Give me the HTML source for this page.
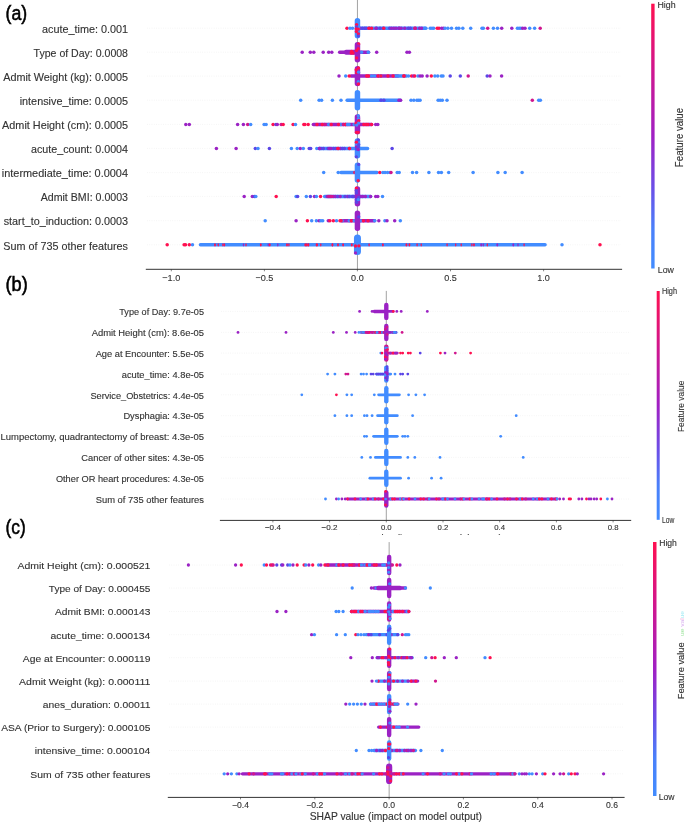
<!DOCTYPE html>
<html><head><meta charset="utf-8"><style>
html,body{margin:0;padding:0;background:#fff;}
svg{display:block;font-family:"Liberation Sans", sans-serif;will-change:transform;}
text.l{stroke:#333;stroke-width:0.12px;}
</style></head><body>
<svg width="685" height="823" viewBox="0 0 685 823">
<defs><linearGradient id="cbg" x1="0" y1="0" x2="0" y2="1"><stop offset="0" stop-color="#ff1050"/><stop offset="0.25" stop-color="#d0168e"/><stop offset="0.5" stop-color="#a020c4"/><stop offset="0.7" stop-color="#6a50e8"/><stop offset="0.85" stop-color="#4a80fa"/><stop offset="1" stop-color="#428cff"/></linearGradient></defs>
<rect width="685" height="823" fill="#fff"/>
<line x1="147" y1="28.2" x2="621" y2="28.2" stroke="#e6e6e6" stroke-width="0.5" stroke-dasharray="0.8 1.5"/>
<line x1="147" y1="52.2" x2="621" y2="52.2" stroke="#e6e6e6" stroke-width="0.5" stroke-dasharray="0.8 1.5"/>
<line x1="147" y1="76.1" x2="621" y2="76.1" stroke="#e6e6e6" stroke-width="0.5" stroke-dasharray="0.8 1.5"/>
<line x1="147" y1="100.2" x2="621" y2="100.2" stroke="#e6e6e6" stroke-width="0.5" stroke-dasharray="0.8 1.5"/>
<line x1="147" y1="124.4" x2="621" y2="124.4" stroke="#e6e6e6" stroke-width="0.5" stroke-dasharray="0.8 1.5"/>
<line x1="147" y1="148.4" x2="621" y2="148.4" stroke="#e6e6e6" stroke-width="0.5" stroke-dasharray="0.8 1.5"/>
<line x1="147" y1="172.6" x2="621" y2="172.6" stroke="#e6e6e6" stroke-width="0.5" stroke-dasharray="0.8 1.5"/>
<line x1="147" y1="196.4" x2="621" y2="196.4" stroke="#e6e6e6" stroke-width="0.5" stroke-dasharray="0.8 1.5"/>
<line x1="147" y1="220.7" x2="621" y2="220.7" stroke="#e6e6e6" stroke-width="0.5" stroke-dasharray="0.8 1.5"/>
<line x1="147" y1="244.8" x2="621" y2="244.8" stroke="#e6e6e6" stroke-width="0.5" stroke-dasharray="0.8 1.5"/>
<line x1="357.45" y1="0" x2="357.45" y2="269.3" stroke="#999" stroke-width="0.9"/>
<text class="l" x="128.0" y="32.9" font-size="10.3" text-anchor="end" fill="#333" textLength="86.0" lengthAdjust="spacingAndGlyphs">acute_time: 0.001</text>
<text class="l" x="128.0" y="56.9" font-size="10.3" text-anchor="end" fill="#333" textLength="94.4" lengthAdjust="spacingAndGlyphs">Type of Day: 0.0008</text>
<text class="l" x="128.0" y="80.8" font-size="10.3" text-anchor="end" fill="#333" textLength="124.8" lengthAdjust="spacingAndGlyphs">Admit Weight (kg): 0.0005</text>
<text class="l" x="128.0" y="104.9" font-size="10.3" text-anchor="end" fill="#333" textLength="108.3" lengthAdjust="spacingAndGlyphs">intensive_time: 0.0005</text>
<text class="l" x="128.0" y="129.1" font-size="10.3" text-anchor="end" fill="#333" textLength="125.9" lengthAdjust="spacingAndGlyphs">Admit Height (cm): 0.0005</text>
<text class="l" x="128.0" y="153.1" font-size="10.3" text-anchor="end" fill="#333" textLength="97.0" lengthAdjust="spacingAndGlyphs">acute_count: 0.0004</text>
<text class="l" x="128.0" y="177.3" font-size="10.3" text-anchor="end" fill="#333" textLength="126.2" lengthAdjust="spacingAndGlyphs">intermediate_time: 0.0004</text>
<text class="l" x="128.0" y="201.1" font-size="10.3" text-anchor="end" fill="#333" textLength="87.3" lengthAdjust="spacingAndGlyphs">Admit BMI: 0.0003</text>
<text class="l" x="128.0" y="225.4" font-size="10.3" text-anchor="end" fill="#333" textLength="124.3" lengthAdjust="spacingAndGlyphs">start_to_induction: 0.0003</text>
<text class="l" x="128.0" y="249.5" font-size="10.3" text-anchor="end" fill="#333" textLength="124.8" lengthAdjust="spacingAndGlyphs">Sum of 735 other features</text>
<rect x="358.2" y="26.45" width="69.5" height="3.50" rx="1.75" fill="#428cff"/>
<circle cx="360.0" cy="28.2" r="1.75" fill="#9b22c4"/>
<circle cx="362.3" cy="28.2" r="1.75" fill="#5a45e6"/>
<circle cx="364.6" cy="28.2" r="1.75" fill="#5a45e6"/>
<circle cx="366.2" cy="28.2" r="1.75" fill="#5a45e6"/>
<circle cx="369.5" cy="28.2" r="1.75" fill="#5a45e6"/>
<circle cx="371.6" cy="28.2" r="1.75" fill="#ff1050"/>
<circle cx="376.6" cy="28.2" r="1.75" fill="#5a45e6"/>
<circle cx="380.0" cy="28.2" r="1.75" fill="#5a45e6"/>
<circle cx="383.2" cy="28.2" r="1.75" fill="#5a45e6"/>
<circle cx="389.7" cy="28.2" r="1.75" fill="#5a45e6"/>
<circle cx="391.5" cy="28.2" r="1.75" fill="#9b22c4"/>
<circle cx="393.9" cy="28.2" r="1.75" fill="#9b22c4"/>
<circle cx="399.1" cy="28.2" r="1.75" fill="#9b22c4"/>
<circle cx="401.1" cy="28.2" r="1.75" fill="#9b22c4"/>
<circle cx="408.4" cy="28.2" r="1.75" fill="#5a45e6"/>
<circle cx="410.4" cy="28.2" r="1.75" fill="#5a45e6"/>
<circle cx="414.9" cy="28.2" r="1.75" fill="#ff1050"/>
<circle cx="421.7" cy="28.2" r="1.75" fill="#9b22c4"/>
<circle cx="347.0" cy="28.2" r="1.75" fill="#ff1050"/>
<circle cx="350.0" cy="28.2" r="1.75" fill="#428cff"/>
<circle cx="352.5" cy="28.2" r="1.75" fill="#428cff"/>
<circle cx="425.0" cy="28.2" r="1.75" fill="#428cff"/>
<circle cx="430.2" cy="28.2" r="1.75" fill="#428cff"/>
<circle cx="432.0" cy="28.2" r="1.75" fill="#428cff"/>
<circle cx="433.7" cy="28.2" r="1.75" fill="#428cff"/>
<circle cx="437.2" cy="28.2" r="1.75" fill="#ff1050"/>
<circle cx="439.0" cy="28.2" r="1.75" fill="#ff1050"/>
<circle cx="441.6" cy="28.2" r="1.75" fill="#9b22c4"/>
<circle cx="443.5" cy="28.2" r="1.75" fill="#9b22c4"/>
<circle cx="445.1" cy="28.2" r="1.75" fill="#428cff"/>
<circle cx="447.9" cy="28.2" r="1.75" fill="#428cff"/>
<circle cx="451.5" cy="28.2" r="1.75" fill="#428cff"/>
<circle cx="456.5" cy="28.2" r="1.75" fill="#428cff"/>
<circle cx="458.9" cy="28.2" r="1.75" fill="#428cff"/>
<circle cx="462.8" cy="28.2" r="1.75" fill="#428cff"/>
<circle cx="470.7" cy="28.2" r="1.75" fill="#428cff"/>
<circle cx="482.0" cy="28.2" r="1.75" fill="#428cff"/>
<circle cx="483.4" cy="28.2" r="1.75" fill="#428cff"/>
<circle cx="487.7" cy="28.2" r="1.75" fill="#d0168e"/>
<circle cx="493.4" cy="28.2" r="1.75" fill="#428cff"/>
<circle cx="497.5" cy="28.2" r="1.75" fill="#428cff"/>
<circle cx="501.7" cy="28.2" r="1.75" fill="#9b22c4"/>
<circle cx="511.8" cy="28.2" r="1.75" fill="#9b22c4"/>
<circle cx="517.4" cy="28.2" r="1.75" fill="#428cff"/>
<circle cx="519.2" cy="28.2" r="1.75" fill="#428cff"/>
<circle cx="520.9" cy="28.2" r="1.75" fill="#428cff"/>
<circle cx="522.7" cy="28.2" r="1.75" fill="#9b22c4"/>
<circle cx="525.0" cy="28.2" r="1.75" fill="#9b22c4"/>
<circle cx="529.7" cy="28.2" r="1.75" fill="#428cff"/>
<circle cx="534.6" cy="28.2" r="1.75" fill="#428cff"/>
<circle cx="540.2" cy="28.2" r="1.75" fill="#d0168e"/>
<circle cx="368.9" cy="28.2" r="1.75" fill="#ff1050"/>
<circle cx="376.0" cy="28.2" r="1.75" fill="#9b22c4"/>
<circle cx="383.8" cy="28.2" r="1.75" fill="#ff1050"/>
<circle cx="396.0" cy="28.2" r="1.75" fill="#9b22c4"/>
<circle cx="399.0" cy="28.2" r="1.75" fill="#9b22c4"/>
<circle cx="404.8" cy="28.2" r="1.75" fill="#9b22c4"/>
<circle cx="415.3" cy="28.2" r="1.75" fill="#d0168e"/>
<circle cx="419.7" cy="28.2" r="1.75" fill="#9b22c4"/>
<rect x="354.70" y="18.00" width="5.50" height="20.40" rx="2.75" fill="#428cff"/>
<circle cx="356.6" cy="24.6" r="1.6624999999999999" fill="#ff1050"/>
<circle cx="356.4" cy="26.9" r="1.6624999999999999" fill="#5a45e6"/>
<circle cx="356.2" cy="28.9" r="1.6624999999999999" fill="#ff1050"/>
<circle cx="358.3" cy="29.1" r="1.6624999999999999" fill="#ff1050"/>
<circle cx="356.4" cy="31.6" r="1.6624999999999999" fill="#ff1050"/>
<circle cx="358.4" cy="33.8" r="1.6624999999999999" fill="#ff1050"/>
<circle cx="358.3" cy="36.1" r="1.6624999999999999" fill="#5a45e6"/>
<rect x="337.9" y="50.45" width="20.2" height="3.50" rx="1.75" fill="#9b22c4"/>
<circle cx="346.6" cy="52.2" r="1.75" fill="#a820b8"/>
<rect x="344.2" y="49.75" width="13.5" height="3.50" rx="1.75" fill="#9b22c4"/>
<rect x="344.2" y="51.15" width="13.5" height="3.50" rx="1.75" fill="#9b22c4"/>
<circle cx="351.6" cy="51.5" r="1.75" fill="#ff1050"/>
<circle cx="351.2" cy="52.9" r="1.75" fill="#ff1050"/>
<circle cx="353.1" cy="52.9" r="1.75" fill="#ff1050"/>
<rect x="357.6" y="50.45" width="12.7" height="3.50" rx="1.75" fill="#9b22c4"/>
<circle cx="359.4" cy="52.2" r="1.75" fill="#428cff"/>
<circle cx="361.5" cy="52.2" r="1.75" fill="#428cff"/>
<circle cx="368.3" cy="52.2" r="1.75" fill="#428cff"/>
<circle cx="302.2" cy="52.2" r="1.75" fill="#9b22c4"/>
<circle cx="310.3" cy="52.2" r="1.75" fill="#9b22c4"/>
<circle cx="313.8" cy="52.2" r="1.75" fill="#9b22c4"/>
<circle cx="323.2" cy="52.2" r="1.75" fill="#9b22c4"/>
<circle cx="328.7" cy="52.2" r="1.75" fill="#9b22c4"/>
<circle cx="331.8" cy="52.2" r="1.75" fill="#9b22c4"/>
<circle cx="376.7" cy="52.2" r="1.75" fill="#9b22c4"/>
<circle cx="407.0" cy="52.2" r="1.75" fill="#9b22c4"/>
<circle cx="409.4" cy="52.2" r="1.75" fill="#9b22c4"/>
<rect x="354.70" y="42.00" width="5.50" height="20.40" rx="2.75" fill="#9b22c4"/>
<circle cx="358.7" cy="44.0" r="1.6624999999999999" fill="#ff1050"/>
<circle cx="358.2" cy="46.0" r="1.6624999999999999" fill="#a820b8"/>
<circle cx="358.2" cy="48.7" r="1.6624999999999999" fill="#ff1050"/>
<circle cx="356.5" cy="50.6" r="1.6624999999999999" fill="#ff1050"/>
<circle cx="356.6" cy="57.9" r="1.6624999999999999" fill="#ff1050"/>
<rect x="349.4" y="74.35" width="7.6" height="3.50" rx="1.75" fill="#9b22c4"/>
<rect x="357.6" y="74.35" width="42.1" height="3.50" rx="1.75" fill="#9b22c4"/>
<circle cx="366.7" cy="76.1" r="1.75" fill="#ff1050"/>
<circle cx="368.4" cy="76.1" r="1.75" fill="#ff1050"/>
<circle cx="371.7" cy="76.1" r="1.75" fill="#428cff"/>
<circle cx="374.5" cy="76.1" r="1.75" fill="#428cff"/>
<circle cx="378.3" cy="76.1" r="1.75" fill="#ff1050"/>
<circle cx="380.7" cy="76.1" r="1.75" fill="#428cff"/>
<circle cx="395.8" cy="76.1" r="1.75" fill="#428cff"/>
<rect x="396.2" y="74.35" width="11.9" height="3.50" rx="1.75" fill="#428cff"/>
<circle cx="404.1" cy="76.1" r="1.75" fill="#ff1050"/>
<circle cx="339.0" cy="76.1" r="1.75" fill="#9b22c4"/>
<circle cx="345.7" cy="76.1" r="1.75" fill="#428cff"/>
<circle cx="349.2" cy="76.1" r="1.75" fill="#ff1050"/>
<circle cx="408.5" cy="76.1" r="1.75" fill="#428cff"/>
<circle cx="411.6" cy="76.1" r="1.75" fill="#ff1050"/>
<circle cx="413.5" cy="76.1" r="1.75" fill="#9b22c4"/>
<circle cx="414.8" cy="76.1" r="1.75" fill="#ff1050"/>
<circle cx="418.0" cy="76.1" r="1.75" fill="#428cff"/>
<circle cx="420.1" cy="76.1" r="1.75" fill="#9b22c4"/>
<circle cx="422.2" cy="76.1" r="1.75" fill="#9b22c4"/>
<circle cx="427.1" cy="76.1" r="1.75" fill="#9b22c4"/>
<circle cx="431.3" cy="76.1" r="1.75" fill="#ff1050"/>
<circle cx="434.9" cy="76.1" r="1.75" fill="#428cff"/>
<circle cx="437.7" cy="76.1" r="1.75" fill="#428cff"/>
<circle cx="441.3" cy="76.1" r="1.75" fill="#428cff"/>
<circle cx="443.0" cy="76.1" r="1.75" fill="#428cff"/>
<circle cx="450.2" cy="76.1" r="1.75" fill="#5a45e6"/>
<circle cx="460.3" cy="76.1" r="1.75" fill="#5a45e6"/>
<circle cx="468.2" cy="76.1" r="1.75" fill="#d0168e"/>
<circle cx="487.2" cy="76.1" r="1.75" fill="#5a45e6"/>
<circle cx="490.0" cy="76.1" r="1.75" fill="#9b22c4"/>
<circle cx="501.6" cy="76.1" r="1.75" fill="#9b22c4"/>
<circle cx="380.8" cy="76.1" r="1.75" fill="#ff1050"/>
<circle cx="388.0" cy="76.1" r="1.75" fill="#ff1050"/>
<circle cx="393.1" cy="76.1" r="1.75" fill="#ff1050"/>
<circle cx="403.8" cy="76.1" r="1.75" fill="#ff1050"/>
<rect x="354.70" y="65.90" width="5.50" height="20.40" rx="2.75" fill="#9b22c4"/>
<circle cx="358.4" cy="67.9" r="1.6624999999999999" fill="#ff1050"/>
<circle cx="356.2" cy="69.8" r="1.6624999999999999" fill="#ff1050"/>
<circle cx="356.6" cy="72.7" r="1.6624999999999999" fill="#ff1050"/>
<circle cx="358.5" cy="72.2" r="1.6624999999999999" fill="#428cff"/>
<circle cx="358.3" cy="81.7" r="1.6624999999999999" fill="#428cff"/>
<circle cx="358.4" cy="84.0" r="1.6624999999999999" fill="#ff1050"/>
<rect x="345.4" y="98.45" width="11.7" height="3.50" rx="1.75" fill="#428cff"/>
<rect x="357.6" y="98.45" width="44.4" height="3.50" rx="1.75" fill="#428cff"/>
<circle cx="381.0" cy="100.2" r="1.75" fill="#5a45e6"/>
<circle cx="383.9" cy="100.2" r="1.75" fill="#5a45e6"/>
<circle cx="300.7" cy="100.2" r="1.75" fill="#428cff"/>
<circle cx="319.1" cy="100.2" r="1.75" fill="#428cff"/>
<circle cx="321.6" cy="100.2" r="1.75" fill="#428cff"/>
<circle cx="332.4" cy="100.2" r="1.75" fill="#428cff"/>
<circle cx="341.0" cy="100.2" r="1.75" fill="#428cff"/>
<circle cx="400.6" cy="100.2" r="1.75" fill="#9b22c4"/>
<circle cx="411.0" cy="100.2" r="1.75" fill="#428cff"/>
<circle cx="413.8" cy="100.2" r="1.75" fill="#428cff"/>
<circle cx="416.9" cy="100.2" r="1.75" fill="#428cff"/>
<circle cx="418.5" cy="100.2" r="1.75" fill="#428cff"/>
<circle cx="420.1" cy="100.2" r="1.75" fill="#428cff"/>
<circle cx="438.1" cy="100.2" r="1.75" fill="#428cff"/>
<circle cx="440.2" cy="100.2" r="1.75" fill="#428cff"/>
<circle cx="442.3" cy="100.2" r="1.75" fill="#428cff"/>
<circle cx="447.0" cy="100.2" r="1.75" fill="#428cff"/>
<circle cx="532.3" cy="100.2" r="1.75" fill="#d0168e"/>
<circle cx="538.7" cy="100.2" r="1.75" fill="#428cff"/>
<circle cx="540.4" cy="100.2" r="1.75" fill="#428cff"/>
<circle cx="399.0" cy="100.2" r="1.75" fill="#9b22c4"/>
<rect x="354.70" y="90.00" width="5.50" height="20.40" rx="2.75" fill="#428cff"/>
<rect x="311.6" y="122.65" width="44.5" height="3.50" rx="1.75" fill="#9b22c4"/>
<circle cx="324.8" cy="124.4" r="1.75" fill="#d0168e"/>
<circle cx="328.7" cy="124.4" r="1.75" fill="#428cff"/>
<circle cx="331.2" cy="124.4" r="1.75" fill="#ff1050"/>
<circle cx="340.9" cy="124.4" r="1.75" fill="#428cff"/>
<circle cx="343.4" cy="124.4" r="1.75" fill="#d0168e"/>
<circle cx="345.8" cy="124.4" r="1.75" fill="#ff1050"/>
<circle cx="354.2" cy="124.4" r="1.75" fill="#428cff"/>
<rect x="356.6" y="122.65" width="16.7" height="3.50" rx="1.75" fill="#9b22c4"/>
<circle cx="358.4" cy="124.4" r="1.75" fill="#ff1050"/>
<circle cx="363.8" cy="124.4" r="1.75" fill="#ff1050"/>
<circle cx="366.1" cy="124.4" r="1.75" fill="#ff1050"/>
<circle cx="371.6" cy="124.4" r="1.75" fill="#ff1050"/>
<circle cx="185.8" cy="124.4" r="1.75" fill="#9b22c4"/>
<circle cx="189.3" cy="124.4" r="1.75" fill="#9b22c4"/>
<circle cx="237.6" cy="124.4" r="1.75" fill="#9b22c4"/>
<circle cx="243.4" cy="124.4" r="1.75" fill="#9b22c4"/>
<circle cx="247.7" cy="124.4" r="1.75" fill="#d0168e"/>
<circle cx="250.7" cy="124.4" r="1.75" fill="#428cff"/>
<circle cx="264.1" cy="124.4" r="1.75" fill="#428cff"/>
<circle cx="266.1" cy="124.4" r="1.75" fill="#428cff"/>
<circle cx="273.1" cy="124.4" r="1.75" fill="#ff1050"/>
<circle cx="276.0" cy="124.4" r="1.75" fill="#5a45e6"/>
<circle cx="277.3" cy="124.4" r="1.75" fill="#9b22c4"/>
<circle cx="281.2" cy="124.4" r="1.75" fill="#d0168e"/>
<circle cx="283.2" cy="124.4" r="1.75" fill="#ff1050"/>
<circle cx="293.1" cy="124.4" r="1.75" fill="#ff1050"/>
<circle cx="295.5" cy="124.4" r="1.75" fill="#428cff"/>
<circle cx="303.8" cy="124.4" r="1.75" fill="#ff1050"/>
<circle cx="304.9" cy="124.4" r="1.75" fill="#ff1050"/>
<circle cx="308.2" cy="124.4" r="1.75" fill="#ff1050"/>
<circle cx="375.7" cy="124.4" r="1.75" fill="#9b22c4"/>
<circle cx="377.8" cy="124.4" r="1.75" fill="#9b22c4"/>
<circle cx="317.0" cy="124.4" r="1.75" fill="#ff1050"/>
<circle cx="322.2" cy="124.4" r="1.75" fill="#ff1050"/>
<circle cx="338.5" cy="124.4" r="1.75" fill="#ff1050"/>
<circle cx="345.7" cy="124.4" r="1.75" fill="#ff1050"/>
<circle cx="347.5" cy="124.4" r="1.75" fill="#428cff"/>
<circle cx="349.0" cy="124.4" r="1.75" fill="#428cff"/>
<circle cx="368.0" cy="124.4" r="1.75" fill="#ff1050"/>
<rect x="354.70" y="114.20" width="5.50" height="20.40" rx="2.75" fill="#9b22c4"/>
<circle cx="358.3" cy="115.7" r="1.6624999999999999" fill="#428cff"/>
<circle cx="358.4" cy="118.6" r="1.6624999999999999" fill="#428cff"/>
<circle cx="358.7" cy="120.7" r="1.6624999999999999" fill="#ff1050"/>
<circle cx="356.2" cy="123.2" r="1.6624999999999999" fill="#ff1050"/>
<circle cx="358.7" cy="123.1" r="1.6624999999999999" fill="#428cff"/>
<circle cx="356.7" cy="125.1" r="1.6624999999999999" fill="#428cff"/>
<circle cx="356.5" cy="132.3" r="1.6624999999999999" fill="#ff1050"/>
<circle cx="358.2" cy="132.3" r="1.6624999999999999" fill="#ff1050"/>
<rect x="317.2" y="146.65" width="38.8" height="3.50" rx="1.75" fill="#428cff"/>
<circle cx="319.4" cy="148.4" r="1.75" fill="#5a45e6"/>
<circle cx="320.9" cy="148.4" r="1.75" fill="#5a45e6"/>
<circle cx="323.4" cy="148.4" r="1.75" fill="#5a45e6"/>
<circle cx="328.0" cy="148.4" r="1.75" fill="#5a45e6"/>
<circle cx="333.6" cy="148.4" r="1.75" fill="#5a45e6"/>
<circle cx="335.9" cy="148.4" r="1.75" fill="#5a45e6"/>
<circle cx="338.1" cy="148.4" r="1.75" fill="#ff1050"/>
<circle cx="340.6" cy="148.4" r="1.75" fill="#9b22c4"/>
<circle cx="342.4" cy="148.4" r="1.75" fill="#5a45e6"/>
<circle cx="344.4" cy="148.4" r="1.75" fill="#5a45e6"/>
<circle cx="349.1" cy="148.4" r="1.75" fill="#5a45e6"/>
<rect x="357.6" y="146.65" width="11.7" height="3.50" rx="1.75" fill="#428cff"/>
<circle cx="216.4" cy="148.4" r="1.75" fill="#9b22c4"/>
<circle cx="236.1" cy="148.4" r="1.75" fill="#9b22c4"/>
<circle cx="255.3" cy="148.4" r="1.75" fill="#5a45e6"/>
<circle cx="258.0" cy="148.4" r="1.75" fill="#428cff"/>
<circle cx="269.4" cy="148.4" r="1.75" fill="#5a45e6"/>
<circle cx="291.4" cy="148.4" r="1.75" fill="#428cff"/>
<circle cx="297.2" cy="148.4" r="1.75" fill="#428cff"/>
<circle cx="300.3" cy="148.4" r="1.75" fill="#9b22c4"/>
<circle cx="303.3" cy="148.4" r="1.75" fill="#428cff"/>
<circle cx="309.2" cy="148.4" r="1.75" fill="#5a45e6"/>
<circle cx="310.7" cy="148.4" r="1.75" fill="#5a45e6"/>
<circle cx="316.8" cy="148.4" r="1.75" fill="#428cff"/>
<circle cx="392.1" cy="148.4" r="1.75" fill="#5a45e6"/>
<circle cx="319.4" cy="148.4" r="1.75" fill="#9b22c4"/>
<circle cx="329.3" cy="148.4" r="1.75" fill="#9b22c4"/>
<circle cx="330.9" cy="148.4" r="1.75" fill="#9b22c4"/>
<circle cx="338.0" cy="148.4" r="1.75" fill="#ff1050"/>
<circle cx="349.5" cy="148.4" r="1.75" fill="#ff1050"/>
<rect x="354.70" y="138.20" width="5.50" height="20.40" rx="2.75" fill="#428cff"/>
<circle cx="358.3" cy="139.8" r="1.6624999999999999" fill="#5a45e6"/>
<circle cx="356.4" cy="142.2" r="1.6624999999999999" fill="#ff1050"/>
<circle cx="358.7" cy="144.6" r="1.6624999999999999" fill="#5a45e6"/>
<circle cx="356.4" cy="147.0" r="1.6624999999999999" fill="#9b22c4"/>
<circle cx="358.5" cy="146.7" r="1.6624999999999999" fill="#5a45e6"/>
<circle cx="356.4" cy="149.1" r="1.6624999999999999" fill="#5a45e6"/>
<circle cx="358.3" cy="149.5" r="1.6624999999999999" fill="#9b22c4"/>
<circle cx="356.3" cy="156.8" r="1.6624999999999999" fill="#5a45e6"/>
<rect x="339.2" y="170.85" width="16.8" height="3.50" rx="1.75" fill="#428cff"/>
<rect x="357.6" y="170.85" width="21.1" height="3.50" rx="1.75" fill="#428cff"/>
<circle cx="323.7" cy="172.6" r="1.75" fill="#428cff"/>
<circle cx="338.2" cy="172.6" r="1.75" fill="#428cff"/>
<circle cx="354.9" cy="172.6" r="1.75" fill="#ff1050"/>
<circle cx="379.8" cy="172.6" r="1.75" fill="#ff1050"/>
<circle cx="382.9" cy="172.6" r="1.75" fill="#428cff"/>
<circle cx="385.0" cy="172.6" r="1.75" fill="#428cff"/>
<circle cx="387.5" cy="172.6" r="1.75" fill="#428cff"/>
<circle cx="390.0" cy="172.6" r="1.75" fill="#428cff"/>
<circle cx="391.0" cy="172.6" r="1.75" fill="#d0168e"/>
<circle cx="397.2" cy="172.6" r="1.75" fill="#428cff"/>
<circle cx="399.2" cy="172.6" r="1.75" fill="#428cff"/>
<circle cx="412.5" cy="172.6" r="1.75" fill="#428cff"/>
<circle cx="416.6" cy="172.6" r="1.75" fill="#428cff"/>
<circle cx="428.9" cy="172.6" r="1.75" fill="#428cff"/>
<circle cx="438.5" cy="172.6" r="1.75" fill="#428cff"/>
<circle cx="441.4" cy="172.6" r="1.75" fill="#428cff"/>
<circle cx="448.7" cy="172.6" r="1.75" fill="#428cff"/>
<circle cx="473.1" cy="172.6" r="1.75" fill="#428cff"/>
<circle cx="497.9" cy="172.6" r="1.75" fill="#428cff"/>
<circle cx="505.2" cy="172.6" r="1.75" fill="#428cff"/>
<circle cx="522.1" cy="172.6" r="1.75" fill="#428cff"/>
<rect x="354.70" y="162.40" width="5.50" height="20.40" rx="2.75" fill="#428cff"/>
<circle cx="358.7" cy="164.4" r="1.6624999999999999" fill="#5a45e6"/>
<circle cx="358.2" cy="180.6" r="1.6624999999999999" fill="#ff1050"/>
<rect x="322.9" y="194.65" width="33.1" height="3.50" rx="1.75" fill="#428cff"/>
<circle cx="327.2" cy="196.4" r="1.75" fill="#9b22c4"/>
<circle cx="329.2" cy="196.4" r="1.75" fill="#5a45e6"/>
<circle cx="333.8" cy="196.4" r="1.75" fill="#9b22c4"/>
<circle cx="335.5" cy="196.4" r="1.75" fill="#9b22c4"/>
<circle cx="337.8" cy="196.4" r="1.75" fill="#5a45e6"/>
<circle cx="340.2" cy="196.4" r="1.75" fill="#9b22c4"/>
<circle cx="345.0" cy="196.4" r="1.75" fill="#5a45e6"/>
<circle cx="347.8" cy="196.4" r="1.75" fill="#9b22c4"/>
<circle cx="349.2" cy="196.4" r="1.75" fill="#5a45e6"/>
<circle cx="352.4" cy="196.4" r="1.75" fill="#5a45e6"/>
<circle cx="353.6" cy="196.4" r="1.75" fill="#5a45e6"/>
<rect x="358.6" y="194.65" width="13.7" height="3.50" rx="1.75" fill="#428cff"/>
<circle cx="360.7" cy="196.4" r="1.75" fill="#9b22c4"/>
<circle cx="362.6" cy="196.4" r="1.75" fill="#9b22c4"/>
<circle cx="365.4" cy="196.4" r="1.75" fill="#9b22c4"/>
<circle cx="370.6" cy="196.4" r="1.75" fill="#9b22c4"/>
<circle cx="244.2" cy="196.4" r="1.75" fill="#9b22c4"/>
<circle cx="252.3" cy="196.4" r="1.75" fill="#9b22c4"/>
<circle cx="254.4" cy="196.4" r="1.75" fill="#5a45e6"/>
<circle cx="255.8" cy="196.4" r="1.75" fill="#428cff"/>
<circle cx="276.2" cy="196.4" r="1.75" fill="#ff1050"/>
<circle cx="296.1" cy="196.4" r="1.75" fill="#428cff"/>
<circle cx="297.6" cy="196.4" r="1.75" fill="#5a45e6"/>
<circle cx="306.3" cy="196.4" r="1.75" fill="#428cff"/>
<circle cx="310.4" cy="196.4" r="1.75" fill="#5a45e6"/>
<circle cx="314.5" cy="196.4" r="1.75" fill="#9b22c4"/>
<circle cx="316.4" cy="196.4" r="1.75" fill="#428cff"/>
<circle cx="320.5" cy="196.4" r="1.75" fill="#ff1050"/>
<circle cx="375.7" cy="196.4" r="1.75" fill="#9b22c4"/>
<circle cx="377.8" cy="196.4" r="1.75" fill="#9b22c4"/>
<circle cx="382.5" cy="196.4" r="1.75" fill="#428cff"/>
<circle cx="328.8" cy="196.4" r="1.75" fill="#d0168e"/>
<circle cx="330.5" cy="196.4" r="1.75" fill="#d0168e"/>
<circle cx="331.9" cy="196.4" r="1.75" fill="#d0168e"/>
<rect x="354.70" y="186.20" width="5.50" height="20.40" rx="2.75" fill="#9b22c4"/>
<circle cx="356.4" cy="188.1" r="1.6624999999999999" fill="#ff1050"/>
<circle cx="356.3" cy="190.6" r="1.6624999999999999" fill="#5a45e6"/>
<circle cx="356.5" cy="192.9" r="1.6624999999999999" fill="#5a45e6"/>
<circle cx="358.7" cy="197.4" r="1.6624999999999999" fill="#5a45e6"/>
<circle cx="356.4" cy="199.7" r="1.6624999999999999" fill="#5a45e6"/>
<circle cx="358.4" cy="199.7" r="1.6624999999999999" fill="#428cff"/>
<circle cx="356.6" cy="202.3" r="1.6624999999999999" fill="#5a45e6"/>
<rect x="340.4" y="218.95" width="15.7" height="3.50" rx="1.75" fill="#9b22c4"/>
<circle cx="342.1" cy="220.7" r="1.75" fill="#428cff"/>
<circle cx="349.3" cy="220.7" r="1.75" fill="#428cff"/>
<circle cx="351.3" cy="220.7" r="1.75" fill="#ff1050"/>
<circle cx="354.3" cy="220.7" r="1.75" fill="#428cff"/>
<rect x="358.6" y="218.95" width="17.8" height="3.50" rx="1.75" fill="#9b22c4"/>
<circle cx="360.4" cy="220.7" r="1.75" fill="#428cff"/>
<circle cx="363.4" cy="220.7" r="1.75" fill="#ff1050"/>
<circle cx="374.7" cy="220.7" r="1.75" fill="#428cff"/>
<circle cx="265.2" cy="220.7" r="1.75" fill="#428cff"/>
<circle cx="296.1" cy="220.7" r="1.75" fill="#9b22c4"/>
<circle cx="307.4" cy="220.7" r="1.75" fill="#ff1050"/>
<circle cx="311.7" cy="220.7" r="1.75" fill="#428cff"/>
<circle cx="316.4" cy="220.7" r="1.75" fill="#428cff"/>
<circle cx="319.1" cy="220.7" r="1.75" fill="#9b22c4"/>
<circle cx="320.9" cy="220.7" r="1.75" fill="#428cff"/>
<circle cx="322.7" cy="220.7" r="1.75" fill="#428cff"/>
<circle cx="328.3" cy="220.7" r="1.75" fill="#9b22c4"/>
<circle cx="329.9" cy="220.7" r="1.75" fill="#ff1050"/>
<circle cx="333.4" cy="220.7" r="1.75" fill="#ff1050"/>
<circle cx="336.5" cy="220.7" r="1.75" fill="#428cff"/>
<circle cx="340.0" cy="220.7" r="1.75" fill="#ff1050"/>
<circle cx="341.1" cy="220.7" r="1.75" fill="#ff1050"/>
<circle cx="378.8" cy="220.7" r="1.75" fill="#9b22c4"/>
<circle cx="384.9" cy="220.7" r="1.75" fill="#428cff"/>
<circle cx="387.0" cy="220.7" r="1.75" fill="#9b22c4"/>
<circle cx="394.7" cy="220.7" r="1.75" fill="#9b22c4"/>
<circle cx="400.3" cy="220.7" r="1.75" fill="#428cff"/>
<circle cx="368.0" cy="220.7" r="1.75" fill="#ff1050"/>
<rect x="354.70" y="210.50" width="5.50" height="20.40" rx="2.75" fill="#9b22c4"/>
<circle cx="358.7" cy="216.8" r="1.6624999999999999" fill="#5a45e6"/>
<rect x="198.7" y="243.05" width="348.1" height="3.50" rx="1.75" fill="#428cff"/>
<ellipse cx="218.2" cy="244.8" rx="0.70" ry="1.66" fill="#ff1050"/>
<ellipse cx="222.9" cy="244.8" rx="0.70" ry="1.66" fill="#ff1050"/>
<ellipse cx="243.5" cy="244.8" rx="0.70" ry="1.66" fill="#9b22c4"/>
<ellipse cx="246.0" cy="244.8" rx="0.70" ry="1.66" fill="#ff1050"/>
<ellipse cx="268.2" cy="244.8" rx="0.70" ry="1.66" fill="#9b22c4"/>
<ellipse cx="277.8" cy="244.8" rx="0.70" ry="1.66" fill="#9b22c4"/>
<ellipse cx="288.9" cy="244.8" rx="0.70" ry="1.66" fill="#ff1050"/>
<ellipse cx="308.0" cy="244.8" rx="0.70" ry="1.66" fill="#ff1050"/>
<ellipse cx="316.4" cy="244.8" rx="0.70" ry="1.66" fill="#ff1050"/>
<ellipse cx="320.8" cy="244.8" rx="0.70" ry="1.66" fill="#ff1050"/>
<ellipse cx="332.5" cy="244.8" rx="0.70" ry="1.66" fill="#ff1050"/>
<ellipse cx="355.6" cy="244.8" rx="0.70" ry="1.66" fill="#ff1050"/>
<ellipse cx="369.1" cy="244.8" rx="0.70" ry="1.66" fill="#ff1050"/>
<ellipse cx="417.1" cy="244.8" rx="0.70" ry="1.66" fill="#ff1050"/>
<ellipse cx="421.2" cy="244.8" rx="0.70" ry="1.66" fill="#ff1050"/>
<ellipse cx="447.1" cy="244.8" rx="0.70" ry="1.66" fill="#ff1050"/>
<ellipse cx="455.7" cy="244.8" rx="0.70" ry="1.66" fill="#ff1050"/>
<ellipse cx="461.2" cy="244.8" rx="0.70" ry="1.66" fill="#ff1050"/>
<ellipse cx="471.9" cy="244.8" rx="0.70" ry="1.66" fill="#ff1050"/>
<ellipse cx="483.3" cy="244.8" rx="0.70" ry="1.66" fill="#9b22c4"/>
<ellipse cx="487.3" cy="244.8" rx="0.70" ry="1.66" fill="#ff1050"/>
<ellipse cx="518.0" cy="244.8" rx="0.70" ry="1.66" fill="#9b22c4"/>
<ellipse cx="524.1" cy="244.8" rx="0.70" ry="1.66" fill="#ff1050"/>
<circle cx="167.2" cy="244.8" r="1.75" fill="#ff1050"/>
<circle cx="184.1" cy="244.8" r="1.75" fill="#ff1050"/>
<circle cx="185.5" cy="244.8" r="1.75" fill="#ff1050"/>
<circle cx="189.3" cy="244.8" r="1.75" fill="#ff1050"/>
<circle cx="192.5" cy="244.8" r="1.75" fill="#428cff"/>
<circle cx="562.0" cy="244.8" r="1.75" fill="#428cff"/>
<circle cx="600.0" cy="244.8" r="1.75" fill="#ff1050"/>
<ellipse cx="215.0" cy="244.8" rx="0.96" ry="1.66" fill="#ff1050"/>
<ellipse cx="224.3" cy="244.8" rx="0.96" ry="1.66" fill="#ff1050"/>
<ellipse cx="260.8" cy="244.8" rx="0.96" ry="1.66" fill="#ff1050"/>
<ellipse cx="269.8" cy="244.8" rx="0.96" ry="1.66" fill="#ff1050"/>
<ellipse cx="287.0" cy="244.8" rx="0.96" ry="1.66" fill="#ff1050"/>
<ellipse cx="305.3" cy="244.8" rx="0.96" ry="1.66" fill="#ff1050"/>
<ellipse cx="306.5" cy="244.8" rx="0.96" ry="1.66" fill="#ff1050"/>
<ellipse cx="308.4" cy="244.8" rx="0.96" ry="1.66" fill="#ff1050"/>
<ellipse cx="317.1" cy="244.8" rx="0.96" ry="1.66" fill="#ff1050"/>
<ellipse cx="332.4" cy="244.8" rx="0.96" ry="1.66" fill="#ff1050"/>
<ellipse cx="338.0" cy="244.8" rx="0.96" ry="1.66" fill="#ff1050"/>
<ellipse cx="343.1" cy="244.8" rx="0.96" ry="1.66" fill="#ff1050"/>
<ellipse cx="351.8" cy="244.8" rx="0.96" ry="1.66" fill="#ff1050"/>
<ellipse cx="382.9" cy="244.8" rx="0.96" ry="1.66" fill="#ff1050"/>
<ellipse cx="406.4" cy="244.8" rx="0.96" ry="1.66" fill="#ff1050"/>
<ellipse cx="409.4" cy="244.8" rx="0.96" ry="1.66" fill="#ff1050"/>
<ellipse cx="474.0" cy="244.8" rx="0.96" ry="1.66" fill="#ff1050"/>
<ellipse cx="481.2" cy="244.8" rx="0.96" ry="1.66" fill="#9b22c4"/>
<ellipse cx="497.3" cy="244.8" rx="0.96" ry="1.66" fill="#9b22c4"/>
<ellipse cx="513.3" cy="244.8" rx="0.96" ry="1.66" fill="#9b22c4"/>
<rect x="353.95" y="234.60" width="7.00" height="20.40" rx="3.50" fill="#428cff"/>
<circle cx="355.5" cy="246.0" r="1.6624999999999999" fill="#ff1050"/>
<circle cx="358.9" cy="245.8" r="1.6624999999999999" fill="#ff1050"/>
<circle cx="355.5" cy="252.9" r="1.6624999999999999" fill="#9b22c4"/>
<line x1="145.8" y1="269.3" x2="622.1" y2="269.3" stroke="#333" stroke-width="1"/>
<line x1="171.3" y1="269.3" x2="171.3" y2="271.3" stroke="#333" stroke-width="0.6"/>
<text class="l" x="171.3" y="281.0" font-size="9.2" text-anchor="middle" fill="#333" textLength="18.0" lengthAdjust="spacingAndGlyphs">−1.0</text>
<line x1="264.4" y1="269.3" x2="264.4" y2="271.3" stroke="#333" stroke-width="0.6"/>
<text class="l" x="264.4" y="281.0" font-size="9.2" text-anchor="middle" fill="#333" textLength="18.0" lengthAdjust="spacingAndGlyphs">−0.5</text>
<line x1="357.4" y1="269.3" x2="357.4" y2="271.3" stroke="#333" stroke-width="0.6"/>
<text class="l" x="357.4" y="281.0" font-size="9.2" text-anchor="middle" fill="#333" textLength="12.6" lengthAdjust="spacingAndGlyphs">0.0</text>
<line x1="450.5" y1="269.3" x2="450.5" y2="271.3" stroke="#333" stroke-width="0.6"/>
<text class="l" x="450.5" y="281.0" font-size="9.2" text-anchor="middle" fill="#333" textLength="12.6" lengthAdjust="spacingAndGlyphs">0.5</text>
<line x1="543.6" y1="269.3" x2="543.6" y2="271.3" stroke="#333" stroke-width="0.6"/>
<text class="l" x="543.6" y="281.0" font-size="9.2" text-anchor="middle" fill="#333" textLength="12.6" lengthAdjust="spacingAndGlyphs">1.0</text>
<rect x="651.2" y="3.7" width="3.3999999999999773" height="264.8" fill="url(#cbg)"/>
<text class="l" x="657.5" y="8.3" font-size="8.8" text-anchor="start" fill="#333">High</text>
<text class="l" x="657.8" y="272.8" font-size="8.8" text-anchor="start" fill="#333">Low</text>
<text class="l" x="0" y="0" font-size="10" text-anchor="middle" fill="#333" transform="translate(682.5,137.5) rotate(-90)" textLength="59.3" lengthAdjust="spacingAndGlyphs">Feature value</text>
<line x1="221" y1="311.4" x2="630.5" y2="311.4" stroke="#e6e6e6" stroke-width="0.5" stroke-dasharray="0.8 1.5"/>
<line x1="221" y1="332.4" x2="630.5" y2="332.4" stroke="#e6e6e6" stroke-width="0.5" stroke-dasharray="0.8 1.5"/>
<line x1="221" y1="353.1" x2="630.5" y2="353.1" stroke="#e6e6e6" stroke-width="0.5" stroke-dasharray="0.8 1.5"/>
<line x1="221" y1="374.1" x2="630.5" y2="374.1" stroke="#e6e6e6" stroke-width="0.5" stroke-dasharray="0.8 1.5"/>
<line x1="221" y1="394.8" x2="630.5" y2="394.8" stroke="#e6e6e6" stroke-width="0.5" stroke-dasharray="0.8 1.5"/>
<line x1="221" y1="415.7" x2="630.5" y2="415.7" stroke="#e6e6e6" stroke-width="0.5" stroke-dasharray="0.8 1.5"/>
<line x1="221" y1="436.3" x2="630.5" y2="436.3" stroke="#e6e6e6" stroke-width="0.5" stroke-dasharray="0.8 1.5"/>
<line x1="221" y1="457.4" x2="630.5" y2="457.4" stroke="#e6e6e6" stroke-width="0.5" stroke-dasharray="0.8 1.5"/>
<line x1="221" y1="478.2" x2="630.5" y2="478.2" stroke="#e6e6e6" stroke-width="0.5" stroke-dasharray="0.8 1.5"/>
<line x1="221" y1="499.0" x2="630.5" y2="499.0" stroke="#e6e6e6" stroke-width="0.5" stroke-dasharray="0.8 1.5"/>
<line x1="386.3" y1="290.9" x2="386.3" y2="520.4" stroke="#999" stroke-width="0.9"/>
<text class="l" x="204.0" y="315.1" font-size="8.9" text-anchor="end" fill="#333" textLength="84.7" lengthAdjust="spacingAndGlyphs">Type of Day: 9.7e-05</text>
<text class="l" x="204.0" y="336.1" font-size="8.9" text-anchor="end" fill="#333" textLength="112.3" lengthAdjust="spacingAndGlyphs">Admit Height (cm): 8.6e-05</text>
<text class="l" x="204.0" y="356.8" font-size="8.9" text-anchor="end" fill="#333" textLength="108.3" lengthAdjust="spacingAndGlyphs">Age at Encounter: 5.5e-05</text>
<text class="l" x="204.0" y="377.8" font-size="8.9" text-anchor="end" fill="#333" textLength="82.2" lengthAdjust="spacingAndGlyphs">acute_time: 4.8e-05</text>
<text class="l" x="204.0" y="398.5" font-size="8.9" text-anchor="end" fill="#333" textLength="113.6" lengthAdjust="spacingAndGlyphs">Service_Obstetrics: 4.4e-05</text>
<text class="l" x="204.0" y="419.4" font-size="8.9" text-anchor="end" fill="#333" textLength="80.6" lengthAdjust="spacingAndGlyphs">Dysphagia: 4.3e-05</text>
<text class="l" x="204.0" y="440.0" font-size="8.9" text-anchor="end" fill="#333" textLength="203.4" lengthAdjust="spacingAndGlyphs">Lumpectomy, quadrantectomy of breast: 4.3e-05</text>
<text class="l" x="204.0" y="461.1" font-size="8.9" text-anchor="end" fill="#333" textLength="122.7" lengthAdjust="spacingAndGlyphs">Cancer of other sites: 4.3e-05</text>
<text class="l" x="204.0" y="481.9" font-size="8.9" text-anchor="end" fill="#333" textLength="148.1" lengthAdjust="spacingAndGlyphs">Other OR heart procedures: 4.3e-05</text>
<text class="l" x="204.0" y="502.7" font-size="8.9" text-anchor="end" fill="#333" textLength="108.3" lengthAdjust="spacingAndGlyphs">Sum of 735 other features</text>
<rect x="372.9" y="309.65" width="13.5" height="2.80" rx="1.4" fill="#9b22c4"/>
<rect x="372.9" y="310.35" width="13.5" height="2.80" rx="1.4" fill="#9b22c4"/>
<rect x="387.1" y="310.00" width="7.3" height="2.80" rx="1.4" fill="#9b22c4"/>
<circle cx="359.6" cy="311.4" r="1.4" fill="#9b22c4"/>
<circle cx="372.1" cy="311.4" r="1.4" fill="#9b22c4"/>
<circle cx="393.3" cy="311.4" r="1.4" fill="#ff1050"/>
<circle cx="396.8" cy="311.4" r="1.4" fill="#9b22c4"/>
<circle cx="401.2" cy="311.4" r="1.4" fill="#9b22c4"/>
<circle cx="427.3" cy="311.4" r="1.4" fill="#9b22c4"/>
<rect x="384.10" y="302.70" width="4.40" height="17.40" rx="2.20" fill="#9b22c4"/>
<rect x="359.7" y="331.00" width="25.8" height="2.80" rx="1.4" fill="#9b22c4"/>
<circle cx="361.5" cy="332.4" r="1.4" fill="#428cff"/>
<circle cx="362.9" cy="332.4" r="1.4" fill="#ff1050"/>
<circle cx="364.6" cy="332.4" r="1.4" fill="#428cff"/>
<circle cx="367.4" cy="332.4" r="1.4" fill="#d0168e"/>
<circle cx="369.1" cy="332.4" r="1.4" fill="#ff1050"/>
<circle cx="372.4" cy="332.4" r="1.4" fill="#d0168e"/>
<circle cx="375.1" cy="332.4" r="1.4" fill="#428cff"/>
<circle cx="378.8" cy="332.4" r="1.4" fill="#d0168e"/>
<circle cx="380.6" cy="332.4" r="1.4" fill="#ff1050"/>
<circle cx="382.3" cy="332.4" r="1.4" fill="#428cff"/>
<circle cx="383.9" cy="332.4" r="1.4" fill="#d0168e"/>
<rect x="387.1" y="331.00" width="10.5" height="2.80" rx="1.4" fill="#428cff"/>
<circle cx="388.5" cy="332.4" r="1.4" fill="#9b22c4"/>
<circle cx="390.1" cy="332.4" r="1.4" fill="#9b22c4"/>
<circle cx="392.6" cy="332.4" r="1.4" fill="#9b22c4"/>
<circle cx="393.9" cy="332.4" r="1.4" fill="#d0168e"/>
<circle cx="395.7" cy="332.4" r="1.4" fill="#9b22c4"/>
<circle cx="238.0" cy="332.4" r="1.4" fill="#9b22c4"/>
<circle cx="286.0" cy="332.4" r="1.4" fill="#9b22c4"/>
<circle cx="333.3" cy="332.4" r="1.4" fill="#9b22c4"/>
<circle cx="346.5" cy="332.4" r="1.4" fill="#9b22c4"/>
<circle cx="355.2" cy="332.4" r="1.4" fill="#9b22c4"/>
<circle cx="358.9" cy="332.4" r="1.4" fill="#428cff"/>
<circle cx="402.1" cy="332.4" r="1.4" fill="#d0168e"/>
<circle cx="363.0" cy="332.4" r="1.4" fill="#428cff"/>
<circle cx="366.0" cy="332.4" r="1.4" fill="#d0168e"/>
<circle cx="368.0" cy="332.4" r="1.4" fill="#d0168e"/>
<circle cx="375.4" cy="332.4" r="1.4" fill="#ff1050"/>
<circle cx="377.0" cy="332.4" r="1.4" fill="#428cff"/>
<circle cx="394.0" cy="332.4" r="1.4" fill="#428cff"/>
<circle cx="395.3" cy="332.4" r="1.4" fill="#428cff"/>
<rect x="384.10" y="323.70" width="4.40" height="17.40" rx="2.20" fill="#9b22c4"/>
<circle cx="386.9" cy="327.1" r="1.3299999999999998" fill="#d0168e"/>
<circle cx="385.4" cy="329.2" r="1.3299999999999998" fill="#d0168e"/>
<circle cx="387.2" cy="334.4" r="1.3299999999999998" fill="#d0168e"/>
<rect x="387.1" y="351.70" width="11.6" height="2.80" rx="1.4" fill="#d0168e"/>
<circle cx="390.3" cy="353.1" r="1.4" fill="#9b22c4"/>
<circle cx="393.1" cy="353.1" r="1.4" fill="#ff1050"/>
<circle cx="395.3" cy="353.1" r="1.4" fill="#9b22c4"/>
<circle cx="396.8" cy="353.1" r="1.4" fill="#9b22c4"/>
<circle cx="380.8" cy="353.1" r="1.4" fill="#428cff"/>
<circle cx="382.0" cy="353.1" r="1.4" fill="#ff1050"/>
<circle cx="400.5" cy="353.1" r="1.4" fill="#ff1050"/>
<circle cx="402.7" cy="353.1" r="1.4" fill="#ff1050"/>
<circle cx="408.2" cy="353.1" r="1.4" fill="#ff1050"/>
<circle cx="410.4" cy="353.1" r="1.4" fill="#ff1050"/>
<circle cx="420.2" cy="353.1" r="1.4" fill="#5a45e6"/>
<circle cx="440.4" cy="353.1" r="1.4" fill="#ff1050"/>
<circle cx="445.0" cy="353.1" r="1.4" fill="#9b22c4"/>
<circle cx="455.3" cy="353.1" r="1.4" fill="#d0168e"/>
<circle cx="470.6" cy="353.1" r="1.4" fill="#ff1050"/>
<rect x="384.10" y="344.40" width="4.40" height="17.40" rx="2.20" fill="#d0168e"/>
<circle cx="385.5" cy="347.9" r="1.3299999999999998" fill="#428cff"/>
<circle cx="386.9" cy="348.0" r="1.3299999999999998" fill="#428cff"/>
<circle cx="387.4" cy="349.5" r="1.3299999999999998" fill="#ff1050"/>
<circle cx="385.7" cy="353.2" r="1.3299999999999998" fill="#9b22c4"/>
<circle cx="386.9" cy="355.2" r="1.3299999999999998" fill="#9b22c4"/>
<circle cx="385.3" cy="357.0" r="1.3299999999999998" fill="#ff1050"/>
<circle cx="385.5" cy="359.2" r="1.3299999999999998" fill="#9b22c4"/>
<rect x="375.1" y="372.70" width="10.4" height="2.80" rx="1.4" fill="#428cff"/>
<circle cx="376.6" cy="374.1" r="1.4" fill="#5a45e6"/>
<circle cx="378.2" cy="374.1" r="1.4" fill="#5a45e6"/>
<circle cx="380.2" cy="374.1" r="1.4" fill="#5a45e6"/>
<circle cx="382.1" cy="374.1" r="1.4" fill="#5a45e6"/>
<circle cx="384.1" cy="374.1" r="1.4" fill="#5a45e6"/>
<rect x="387.1" y="372.70" width="5.0" height="2.80" rx="1.4" fill="#428cff"/>
<circle cx="327.6" cy="374.1" r="1.4" fill="#428cff"/>
<circle cx="334.9" cy="374.1" r="1.4" fill="#428cff"/>
<circle cx="345.8" cy="374.1" r="1.4" fill="#d0168e"/>
<circle cx="348.0" cy="374.1" r="1.4" fill="#d0168e"/>
<circle cx="361.1" cy="374.1" r="1.4" fill="#428cff"/>
<circle cx="363.5" cy="374.1" r="1.4" fill="#428cff"/>
<circle cx="366.6" cy="374.1" r="1.4" fill="#428cff"/>
<circle cx="371.0" cy="374.1" r="1.4" fill="#5a45e6"/>
<circle cx="373.2" cy="374.1" r="1.4" fill="#5a45e6"/>
<circle cx="395.0" cy="374.1" r="1.4" fill="#428cff"/>
<circle cx="400.5" cy="374.1" r="1.4" fill="#5a45e6"/>
<circle cx="402.7" cy="374.1" r="1.4" fill="#5a45e6"/>
<circle cx="407.8" cy="374.1" r="1.4" fill="#5a45e6"/>
<rect x="384.10" y="365.40" width="4.40" height="17.40" rx="2.20" fill="#428cff"/>
<circle cx="387.1" cy="366.6" r="1.3299999999999998" fill="#5a45e6"/>
<circle cx="387.1" cy="368.7" r="1.3299999999999998" fill="#5a45e6"/>
<circle cx="387.2" cy="370.7" r="1.3299999999999998" fill="#5a45e6"/>
<circle cx="385.5" cy="372.4" r="1.3299999999999998" fill="#9b22c4"/>
<circle cx="387.3" cy="372.8" r="1.3299999999999998" fill="#9b22c4"/>
<circle cx="387.4" cy="374.4" r="1.3299999999999998" fill="#9b22c4"/>
<circle cx="387.3" cy="376.5" r="1.3299999999999998" fill="#5a45e6"/>
<circle cx="385.7" cy="377.9" r="1.3299999999999998" fill="#9b22c4"/>
<circle cx="387.3" cy="377.9" r="1.3299999999999998" fill="#5a45e6"/>
<circle cx="387.0" cy="380.0" r="1.3299999999999998" fill="#5a45e6"/>
<rect x="377.2" y="393.40" width="23.6" height="2.80" rx="1.4" fill="#428cff"/>
<circle cx="301.8" cy="394.8" r="1.4" fill="#428cff"/>
<circle cx="336.4" cy="394.8" r="1.4" fill="#ff1050"/>
<circle cx="346.9" cy="394.8" r="1.4" fill="#428cff"/>
<circle cx="351.7" cy="394.8" r="1.4" fill="#428cff"/>
<circle cx="374.3" cy="394.8" r="1.4" fill="#428cff"/>
<circle cx="408.6" cy="394.8" r="1.4" fill="#428cff"/>
<circle cx="415.9" cy="394.8" r="1.4" fill="#428cff"/>
<circle cx="424.6" cy="394.8" r="1.4" fill="#428cff"/>
<rect x="384.10" y="386.10" width="4.40" height="17.40" rx="2.20" fill="#428cff"/>
<rect x="376.2" y="414.30" width="22.5" height="2.80" rx="1.4" fill="#428cff"/>
<circle cx="334.9" cy="415.7" r="1.4" fill="#428cff"/>
<circle cx="346.9" cy="415.7" r="1.4" fill="#428cff"/>
<circle cx="351.7" cy="415.7" r="1.4" fill="#428cff"/>
<circle cx="364.4" cy="415.7" r="1.4" fill="#428cff"/>
<circle cx="367.0" cy="415.7" r="1.4" fill="#428cff"/>
<circle cx="372.1" cy="415.7" r="1.4" fill="#428cff"/>
<circle cx="412.6" cy="415.7" r="1.4" fill="#428cff"/>
<circle cx="516.2" cy="415.7" r="1.4" fill="#428cff"/>
<rect x="384.10" y="407.00" width="4.40" height="17.40" rx="2.20" fill="#428cff"/>
<rect x="372.2" y="434.90" width="26.5" height="2.80" rx="1.4" fill="#428cff"/>
<circle cx="364.4" cy="436.3" r="1.4" fill="#428cff"/>
<circle cx="366.6" cy="436.3" r="1.4" fill="#428cff"/>
<circle cx="402.7" cy="436.3" r="1.4" fill="#428cff"/>
<circle cx="405.0" cy="436.3" r="1.4" fill="#428cff"/>
<circle cx="407.8" cy="436.3" r="1.4" fill="#428cff"/>
<circle cx="500.7" cy="436.3" r="1.4" fill="#428cff"/>
<rect x="384.10" y="427.60" width="4.40" height="17.40" rx="2.20" fill="#428cff"/>
<rect x="374.0" y="456.00" width="27.9" height="2.80" rx="1.4" fill="#428cff"/>
<circle cx="361.8" cy="457.4" r="1.4" fill="#428cff"/>
<circle cx="370.5" cy="457.4" r="1.4" fill="#428cff"/>
<circle cx="407.8" cy="457.4" r="1.4" fill="#428cff"/>
<circle cx="414.8" cy="457.4" r="1.4" fill="#428cff"/>
<circle cx="440.0" cy="457.4" r="1.4" fill="#428cff"/>
<circle cx="523.2" cy="457.4" r="1.4" fill="#428cff"/>
<rect x="384.10" y="448.70" width="4.40" height="17.40" rx="2.20" fill="#428cff"/>
<rect x="368.5" y="476.80" width="33.4" height="2.80" rx="1.4" fill="#428cff"/>
<circle cx="408.6" cy="478.2" r="1.4" fill="#428cff"/>
<circle cx="431.6" cy="478.2" r="1.4" fill="#428cff"/>
<circle cx="441.1" cy="478.2" r="1.4" fill="#428cff"/>
<rect x="384.10" y="469.50" width="4.40" height="17.40" rx="2.20" fill="#428cff"/>
<rect x="346.0" y="497.60" width="212.4" height="2.80" rx="1.4" fill="#9b22c4"/>
<circle cx="347.4" cy="499.0" r="1.4" fill="#ff1050"/>
<circle cx="355.0" cy="499.0" r="1.4" fill="#ff1050"/>
<circle cx="360.6" cy="499.0" r="1.4" fill="#428cff"/>
<circle cx="366.2" cy="499.0" r="1.4" fill="#428cff"/>
<circle cx="367.8" cy="499.0" r="1.4" fill="#ff1050"/>
<circle cx="373.2" cy="499.0" r="1.4" fill="#428cff"/>
<circle cx="375.0" cy="499.0" r="1.4" fill="#ff1050"/>
<circle cx="378.5" cy="499.0" r="1.4" fill="#d0168e"/>
<circle cx="383.3" cy="499.0" r="1.4" fill="#ff1050"/>
<circle cx="385.8" cy="499.0" r="1.4" fill="#428cff"/>
<circle cx="390.8" cy="499.0" r="1.4" fill="#428cff"/>
<circle cx="392.4" cy="499.0" r="1.4" fill="#ff1050"/>
<circle cx="394.6" cy="499.0" r="1.4" fill="#ff1050"/>
<circle cx="400.4" cy="499.0" r="1.4" fill="#428cff"/>
<circle cx="402.6" cy="499.0" r="1.4" fill="#ff1050"/>
<circle cx="403.5" cy="499.0" r="1.4" fill="#428cff"/>
<circle cx="409.1" cy="499.0" r="1.4" fill="#ff1050"/>
<circle cx="415.0" cy="499.0" r="1.4" fill="#428cff"/>
<circle cx="420.7" cy="499.0" r="1.4" fill="#ff1050"/>
<circle cx="423.7" cy="499.0" r="1.4" fill="#ff1050"/>
<circle cx="427.7" cy="499.0" r="1.4" fill="#d0168e"/>
<circle cx="429.1" cy="499.0" r="1.4" fill="#428cff"/>
<circle cx="436.5" cy="499.0" r="1.4" fill="#ff1050"/>
<circle cx="439.0" cy="499.0" r="1.4" fill="#d0168e"/>
<circle cx="442.6" cy="499.0" r="1.4" fill="#428cff"/>
<circle cx="444.3" cy="499.0" r="1.4" fill="#428cff"/>
<circle cx="445.4" cy="499.0" r="1.4" fill="#ff1050"/>
<circle cx="447.5" cy="499.0" r="1.4" fill="#428cff"/>
<circle cx="455.0" cy="499.0" r="1.4" fill="#428cff"/>
<circle cx="460.6" cy="499.0" r="1.4" fill="#d0168e"/>
<circle cx="462.6" cy="499.0" r="1.4" fill="#ff1050"/>
<circle cx="463.8" cy="499.0" r="1.4" fill="#428cff"/>
<circle cx="469.9" cy="499.0" r="1.4" fill="#ff1050"/>
<circle cx="471.8" cy="499.0" r="1.4" fill="#428cff"/>
<circle cx="479.0" cy="499.0" r="1.4" fill="#428cff"/>
<circle cx="482.5" cy="499.0" r="1.4" fill="#428cff"/>
<circle cx="483.8" cy="499.0" r="1.4" fill="#428cff"/>
<circle cx="486.4" cy="499.0" r="1.4" fill="#ff1050"/>
<circle cx="487.3" cy="499.0" r="1.4" fill="#d0168e"/>
<circle cx="489.2" cy="499.0" r="1.4" fill="#ff1050"/>
<circle cx="491.6" cy="499.0" r="1.4" fill="#428cff"/>
<circle cx="497.0" cy="499.0" r="1.4" fill="#ff1050"/>
<circle cx="504.5" cy="499.0" r="1.4" fill="#d0168e"/>
<circle cx="507.5" cy="499.0" r="1.4" fill="#ff1050"/>
<circle cx="510.0" cy="499.0" r="1.4" fill="#d0168e"/>
<circle cx="516.5" cy="499.0" r="1.4" fill="#ff1050"/>
<circle cx="520.4" cy="499.0" r="1.4" fill="#428cff"/>
<circle cx="522.1" cy="499.0" r="1.4" fill="#ff1050"/>
<circle cx="525.8" cy="499.0" r="1.4" fill="#d0168e"/>
<circle cx="533.2" cy="499.0" r="1.4" fill="#428cff"/>
<circle cx="537.2" cy="499.0" r="1.4" fill="#428cff"/>
<circle cx="539.2" cy="499.0" r="1.4" fill="#ff1050"/>
<circle cx="541.9" cy="499.0" r="1.4" fill="#ff1050"/>
<circle cx="547.9" cy="499.0" r="1.4" fill="#428cff"/>
<circle cx="551.5" cy="499.0" r="1.4" fill="#ff1050"/>
<circle cx="555.7" cy="499.0" r="1.4" fill="#ff1050"/>
<circle cx="557.0" cy="499.0" r="1.4" fill="#428cff"/>
<circle cx="325.5" cy="499.0" r="1.4" fill="#428cff"/>
<circle cx="336.4" cy="499.0" r="1.4" fill="#9b22c4"/>
<circle cx="338.6" cy="499.0" r="1.4" fill="#428cff"/>
<circle cx="341.9" cy="499.0" r="1.4" fill="#9b22c4"/>
<circle cx="345.2" cy="499.0" r="1.4" fill="#9b22c4"/>
<circle cx="559.7" cy="499.0" r="1.4" fill="#9b22c4"/>
<circle cx="563.5" cy="499.0" r="1.4" fill="#9b22c4"/>
<circle cx="569.1" cy="499.0" r="1.4" fill="#ff1050"/>
<circle cx="570.6" cy="499.0" r="1.4" fill="#ff1050"/>
<circle cx="578.8" cy="499.0" r="1.4" fill="#9b22c4"/>
<circle cx="581.9" cy="499.0" r="1.4" fill="#9b22c4"/>
<circle cx="586.5" cy="499.0" r="1.4" fill="#ff1050"/>
<circle cx="589.0" cy="499.0" r="1.4" fill="#9b22c4"/>
<circle cx="591.0" cy="499.0" r="1.4" fill="#9b22c4"/>
<circle cx="594.1" cy="499.0" r="1.4" fill="#9b22c4"/>
<circle cx="596.7" cy="499.0" r="1.4" fill="#9b22c4"/>
<circle cx="600.8" cy="499.0" r="1.4" fill="#ff1050"/>
<circle cx="607.4" cy="499.0" r="1.4" fill="#428cff"/>
<circle cx="612.0" cy="499.0" r="1.4" fill="#9b22c4"/>
<rect x="384.10" y="490.30" width="4.40" height="17.40" rx="2.20" fill="#9b22c4"/>
<circle cx="385.6" cy="491.4" r="1.3299999999999998" fill="#ff1050"/>
<circle cx="385.7" cy="499.0" r="1.3299999999999998" fill="#428cff"/>
<circle cx="385.5" cy="504.9" r="1.3299999999999998" fill="#ff1050"/>
<line x1="219.9" y1="520.4" x2="631.2" y2="520.4" stroke="#333" stroke-width="1"/>
<line x1="272.9" y1="520.4" x2="272.9" y2="522.4" stroke="#333" stroke-width="0.6"/>
<text class="l" x="272.9" y="530.3" font-size="7.9" text-anchor="middle" fill="#333" textLength="16.0" lengthAdjust="spacingAndGlyphs">−0.4</text>
<line x1="329.6" y1="520.4" x2="329.6" y2="522.4" stroke="#333" stroke-width="0.6"/>
<text class="l" x="329.6" y="530.3" font-size="7.9" text-anchor="middle" fill="#333" textLength="16.0" lengthAdjust="spacingAndGlyphs">−0.2</text>
<line x1="386.3" y1="520.4" x2="386.3" y2="522.4" stroke="#333" stroke-width="0.6"/>
<text class="l" x="386.3" y="530.3" font-size="7.9" text-anchor="middle" fill="#333" textLength="10.8" lengthAdjust="spacingAndGlyphs">0.0</text>
<line x1="443.0" y1="520.4" x2="443.0" y2="522.4" stroke="#333" stroke-width="0.6"/>
<text class="l" x="443.0" y="530.3" font-size="7.9" text-anchor="middle" fill="#333" textLength="10.8" lengthAdjust="spacingAndGlyphs">0.2</text>
<line x1="499.7" y1="520.4" x2="499.7" y2="522.4" stroke="#333" stroke-width="0.6"/>
<text class="l" x="499.7" y="530.3" font-size="7.9" text-anchor="middle" fill="#333" textLength="10.8" lengthAdjust="spacingAndGlyphs">0.4</text>
<line x1="556.4" y1="520.4" x2="556.4" y2="522.4" stroke="#333" stroke-width="0.6"/>
<text class="l" x="556.4" y="530.3" font-size="7.9" text-anchor="middle" fill="#333" textLength="10.8" lengthAdjust="spacingAndGlyphs">0.6</text>
<line x1="613.1" y1="520.4" x2="613.1" y2="522.4" stroke="#333" stroke-width="0.6"/>
<text class="l" x="613.1" y="530.3" font-size="7.9" text-anchor="middle" fill="#333" textLength="10.8" lengthAdjust="spacingAndGlyphs">0.8</text>
<rect x="656.7" y="291" width="3.0" height="228.79999999999995" fill="url(#cbg)"/>
<text class="l" x="661.9" y="293.8" font-size="8.4" text-anchor="start" fill="#333" textLength="15.1" lengthAdjust="spacingAndGlyphs">High</text>
<text class="l" x="662.1" y="522.6" font-size="8.4" text-anchor="start" fill="#333" textLength="12.3" lengthAdjust="spacingAndGlyphs">Low</text>
<text class="l" x="0" y="0" font-size="8.9" text-anchor="middle" fill="#333" transform="translate(683.9,406.3) rotate(-90)" textLength="51.5" lengthAdjust="spacingAndGlyphs">Feature value</text>
<line x1="169" y1="565.0" x2="623.6" y2="565.0" stroke="#e6e6e6" stroke-width="0.5" stroke-dasharray="0.8 1.5"/>
<line x1="169" y1="588.0" x2="623.6" y2="588.0" stroke="#e6e6e6" stroke-width="0.5" stroke-dasharray="0.8 1.5"/>
<line x1="169" y1="611.5" x2="623.6" y2="611.5" stroke="#e6e6e6" stroke-width="0.5" stroke-dasharray="0.8 1.5"/>
<line x1="169" y1="634.7" x2="623.6" y2="634.7" stroke="#e6e6e6" stroke-width="0.5" stroke-dasharray="0.8 1.5"/>
<line x1="169" y1="657.7" x2="623.6" y2="657.7" stroke="#e6e6e6" stroke-width="0.5" stroke-dasharray="0.8 1.5"/>
<line x1="169" y1="681.1" x2="623.6" y2="681.1" stroke="#e6e6e6" stroke-width="0.5" stroke-dasharray="0.8 1.5"/>
<line x1="169" y1="704.1" x2="623.6" y2="704.1" stroke="#e6e6e6" stroke-width="0.5" stroke-dasharray="0.8 1.5"/>
<line x1="169" y1="727.1" x2="623.6" y2="727.1" stroke="#e6e6e6" stroke-width="0.5" stroke-dasharray="0.8 1.5"/>
<line x1="169" y1="750.5" x2="623.6" y2="750.5" stroke="#e6e6e6" stroke-width="0.5" stroke-dasharray="0.8 1.5"/>
<line x1="169" y1="773.8" x2="623.6" y2="773.8" stroke="#e6e6e6" stroke-width="0.5" stroke-dasharray="0.8 1.5"/>
<line x1="389.15" y1="542.1" x2="389.15" y2="797.4" stroke="#999" stroke-width="0.9"/>
<text class="l" x="150.4" y="568.8" font-size="9.9" text-anchor="end" fill="#333" textLength="132.9" lengthAdjust="spacingAndGlyphs">Admit Height (cm): 0.000521</text>
<text class="l" x="150.4" y="591.8" font-size="9.9" text-anchor="end" fill="#333" textLength="101.6" lengthAdjust="spacingAndGlyphs">Type of Day: 0.000455</text>
<text class="l" x="150.4" y="615.3" font-size="9.9" text-anchor="end" fill="#333" textLength="95.5" lengthAdjust="spacingAndGlyphs">Admit BMI: 0.000143</text>
<text class="l" x="150.4" y="638.5" font-size="9.9" text-anchor="end" fill="#333" textLength="99.9" lengthAdjust="spacingAndGlyphs">acute_time: 0.000134</text>
<text class="l" x="150.4" y="661.5" font-size="9.9" text-anchor="end" fill="#333" textLength="127.6" lengthAdjust="spacingAndGlyphs">Age at Encounter: 0.000119</text>
<text class="l" x="150.4" y="684.9" font-size="9.9" text-anchor="end" fill="#333" textLength="131.3" lengthAdjust="spacingAndGlyphs">Admit Weight (kg): 0.000111</text>
<text class="l" x="150.4" y="707.9" font-size="9.9" text-anchor="end" fill="#333" textLength="107.7" lengthAdjust="spacingAndGlyphs">anes_duration: 0.00011</text>
<text class="l" x="150.4" y="730.9" font-size="9.9" text-anchor="end" fill="#333" textLength="149.2" lengthAdjust="spacingAndGlyphs">ASA (Prior to Surgery): 0.000105</text>
<text class="l" x="150.4" y="754.3" font-size="9.9" text-anchor="end" fill="#333" textLength="115.7" lengthAdjust="spacingAndGlyphs">intensive_time: 0.000104</text>
<text class="l" x="150.4" y="777.6" font-size="9.9" text-anchor="end" fill="#333" textLength="120.1" lengthAdjust="spacingAndGlyphs">Sum of 735 other features</text>
<rect x="324.5" y="563.35" width="64.2" height="3.30" rx="1.65" fill="#9b22c4"/>
<circle cx="328.0" cy="565.0" r="1.65" fill="#ff1050"/>
<circle cx="336.9" cy="565.0" r="1.65" fill="#428cff"/>
<circle cx="338.7" cy="565.0" r="1.65" fill="#ff1050"/>
<circle cx="343.1" cy="565.0" r="1.65" fill="#ff1050"/>
<circle cx="349.6" cy="565.0" r="1.65" fill="#ff1050"/>
<circle cx="352.2" cy="565.0" r="1.65" fill="#ff1050"/>
<circle cx="354.0" cy="565.0" r="1.65" fill="#d0168e"/>
<circle cx="359.3" cy="565.0" r="1.65" fill="#ff1050"/>
<circle cx="361.5" cy="565.0" r="1.65" fill="#428cff"/>
<circle cx="364.9" cy="565.0" r="1.65" fill="#428cff"/>
<circle cx="367.0" cy="565.0" r="1.65" fill="#ff1050"/>
<circle cx="369.5" cy="565.0" r="1.65" fill="#428cff"/>
<circle cx="374.1" cy="565.0" r="1.65" fill="#ff1050"/>
<circle cx="376.3" cy="565.0" r="1.65" fill="#ff1050"/>
<circle cx="382.7" cy="565.0" r="1.65" fill="#428cff"/>
<circle cx="384.5" cy="565.0" r="1.65" fill="#428cff"/>
<rect x="385.8" y="563.35" width="8.3" height="3.30" rx="1.65" fill="#d0168e"/>
<circle cx="188.4" cy="565.0" r="1.65" fill="#9b22c4"/>
<circle cx="235.6" cy="565.0" r="1.65" fill="#9b22c4"/>
<circle cx="241.3" cy="565.0" r="1.65" fill="#ff1050"/>
<circle cx="264.2" cy="565.0" r="1.65" fill="#428cff"/>
<circle cx="266.5" cy="565.0" r="1.65" fill="#ff1050"/>
<circle cx="270.5" cy="565.0" r="1.65" fill="#d0168e"/>
<circle cx="272.0" cy="565.0" r="1.65" fill="#ff1050"/>
<circle cx="273.2" cy="565.0" r="1.65" fill="#d0168e"/>
<circle cx="276.8" cy="565.0" r="1.65" fill="#5a45e6"/>
<circle cx="281.6" cy="565.0" r="1.65" fill="#5a45e6"/>
<circle cx="282.8" cy="565.0" r="1.65" fill="#9b22c4"/>
<circle cx="287.7" cy="565.0" r="1.65" fill="#5a45e6"/>
<circle cx="290.0" cy="565.0" r="1.65" fill="#428cff"/>
<circle cx="293.0" cy="565.0" r="1.65" fill="#9b22c4"/>
<circle cx="297.2" cy="565.0" r="1.65" fill="#ff1050"/>
<circle cx="304.1" cy="565.0" r="1.65" fill="#ff1050"/>
<circle cx="305.8" cy="565.0" r="1.65" fill="#428cff"/>
<circle cx="308.9" cy="565.0" r="1.65" fill="#9b22c4"/>
<circle cx="312.7" cy="565.0" r="1.65" fill="#ff1050"/>
<circle cx="318.6" cy="565.0" r="1.65" fill="#428cff"/>
<circle cx="320.9" cy="565.0" r="1.65" fill="#9b22c4"/>
<circle cx="324.9" cy="565.0" r="1.65" fill="#ff1050"/>
<circle cx="396.8" cy="565.0" r="1.65" fill="#ff1050"/>
<circle cx="400.0" cy="565.0" r="1.65" fill="#9b22c4"/>
<rect x="386.95" y="554.80" width="4.40" height="20.40" rx="2.20" fill="#9b22c4"/>
<circle cx="388.7" cy="562.9" r="1.5675" fill="#428cff"/>
<circle cx="388.6" cy="567.6" r="1.5675" fill="#428cff"/>
<circle cx="388.7" cy="572.2" r="1.5675" fill="#428cff"/>
<rect x="372.2" y="586.35" width="35.0" height="3.30" rx="1.65" fill="#9b22c4"/>
<circle cx="376.1" cy="588.0" r="1.65" fill="#428cff"/>
<circle cx="385.2" cy="588.0" r="1.65" fill="#428cff"/>
<rect x="376.4" y="585.69" width="25.3" height="3.30" rx="1.65" fill="#9b22c4"/>
<rect x="376.4" y="587.01" width="25.3" height="3.30" rx="1.65" fill="#9b22c4"/>
<circle cx="352.2" cy="588.0" r="1.65" fill="#428cff"/>
<circle cx="371.4" cy="588.0" r="1.65" fill="#9b22c4"/>
<circle cx="405.5" cy="588.0" r="1.65" fill="#428cff"/>
<circle cx="430.3" cy="588.0" r="1.65" fill="#428cff"/>
<rect x="386.95" y="577.80" width="4.40" height="20.40" rx="2.20" fill="#9b22c4"/>
<circle cx="389.6" cy="583.8" r="1.5675" fill="#428cff"/>
<rect x="349.9" y="609.85" width="60.6" height="3.30" rx="1.65" fill="#9b22c4"/>
<circle cx="351.5" cy="611.5" r="1.65" fill="#428cff"/>
<circle cx="354.1" cy="611.5" r="1.65" fill="#ff1050"/>
<circle cx="355.9" cy="611.5" r="1.65" fill="#ff1050"/>
<circle cx="358.7" cy="611.5" r="1.65" fill="#428cff"/>
<circle cx="360.7" cy="611.5" r="1.65" fill="#ff1050"/>
<circle cx="362.2" cy="611.5" r="1.65" fill="#ff1050"/>
<circle cx="365.2" cy="611.5" r="1.65" fill="#428cff"/>
<circle cx="369.0" cy="611.5" r="1.65" fill="#428cff"/>
<circle cx="370.9" cy="611.5" r="1.65" fill="#428cff"/>
<circle cx="373.2" cy="611.5" r="1.65" fill="#428cff"/>
<circle cx="375.7" cy="611.5" r="1.65" fill="#428cff"/>
<circle cx="378.2" cy="611.5" r="1.65" fill="#428cff"/>
<circle cx="385.0" cy="611.5" r="1.65" fill="#ff1050"/>
<circle cx="386.3" cy="611.5" r="1.65" fill="#ff1050"/>
<circle cx="388.3" cy="611.5" r="1.65" fill="#428cff"/>
<circle cx="393.0" cy="611.5" r="1.65" fill="#428cff"/>
<circle cx="395.2" cy="611.5" r="1.65" fill="#ff1050"/>
<circle cx="397.3" cy="611.5" r="1.65" fill="#ff1050"/>
<circle cx="399.5" cy="611.5" r="1.65" fill="#ff1050"/>
<circle cx="402.6" cy="611.5" r="1.65" fill="#ff1050"/>
<circle cx="407.0" cy="611.5" r="1.65" fill="#428cff"/>
<circle cx="408.8" cy="611.5" r="1.65" fill="#ff1050"/>
<circle cx="277.0" cy="611.5" r="1.65" fill="#9b22c4"/>
<circle cx="285.9" cy="611.5" r="1.65" fill="#9b22c4"/>
<circle cx="336.1" cy="611.5" r="1.65" fill="#428cff"/>
<circle cx="338.8" cy="611.5" r="1.65" fill="#428cff"/>
<circle cx="343.1" cy="611.5" r="1.65" fill="#428cff"/>
<circle cx="351.5" cy="611.5" r="1.65" fill="#ff1050"/>
<rect x="386.95" y="601.30" width="4.40" height="20.40" rx="2.20" fill="#9b22c4"/>
<circle cx="389.5" cy="605.0" r="1.5675" fill="#428cff"/>
<circle cx="388.6" cy="607.2" r="1.5675" fill="#428cff"/>
<circle cx="388.8" cy="611.8" r="1.5675" fill="#428cff"/>
<circle cx="389.7" cy="614.4" r="1.5675" fill="#428cff"/>
<circle cx="388.7" cy="618.7" r="1.5675" fill="#ff1050"/>
<circle cx="390.0" cy="618.5" r="1.5675" fill="#428cff"/>
<rect x="364.5" y="633.05" width="35.1" height="3.30" rx="1.65" fill="#428cff"/>
<circle cx="368.7" cy="634.7" r="1.65" fill="#9b22c4"/>
<circle cx="371.1" cy="634.7" r="1.65" fill="#5a45e6"/>
<circle cx="379.6" cy="634.7" r="1.65" fill="#5a45e6"/>
<circle cx="387.0" cy="634.7" r="1.65" fill="#5a45e6"/>
<circle cx="391.1" cy="634.7" r="1.65" fill="#9b22c4"/>
<circle cx="397.7" cy="634.7" r="1.65" fill="#5a45e6"/>
<circle cx="311.6" cy="634.7" r="1.65" fill="#9b22c4"/>
<circle cx="314.4" cy="634.7" r="1.65" fill="#428cff"/>
<circle cx="336.6" cy="634.7" r="1.65" fill="#428cff"/>
<circle cx="345.3" cy="634.7" r="1.65" fill="#428cff"/>
<circle cx="355.8" cy="634.7" r="1.65" fill="#ff1050"/>
<circle cx="358.0" cy="634.7" r="1.65" fill="#428cff"/>
<circle cx="361.0" cy="634.7" r="1.65" fill="#428cff"/>
<circle cx="364.0" cy="634.7" r="1.65" fill="#428cff"/>
<circle cx="402.3" cy="634.7" r="1.65" fill="#d0168e"/>
<circle cx="405.5" cy="634.7" r="1.65" fill="#428cff"/>
<circle cx="407.0" cy="634.7" r="1.65" fill="#428cff"/>
<circle cx="408.8" cy="634.7" r="1.65" fill="#428cff"/>
<rect x="386.95" y="624.50" width="4.40" height="20.40" rx="2.20" fill="#428cff"/>
<circle cx="389.8" cy="628.6" r="1.5675" fill="#5a45e6"/>
<circle cx="388.5" cy="630.3" r="1.5675" fill="#5a45e6"/>
<rect x="375.5" y="656.05" width="38.3" height="3.30" rx="1.65" fill="#428cff"/>
<circle cx="377.3" cy="657.7" r="1.65" fill="#9b22c4"/>
<circle cx="378.8" cy="657.7" r="1.65" fill="#9b22c4"/>
<circle cx="381.8" cy="657.7" r="1.65" fill="#ff1050"/>
<circle cx="383.5" cy="657.7" r="1.65" fill="#ff1050"/>
<circle cx="385.9" cy="657.7" r="1.65" fill="#9b22c4"/>
<circle cx="387.9" cy="657.7" r="1.65" fill="#9b22c4"/>
<circle cx="390.4" cy="657.7" r="1.65" fill="#ff1050"/>
<circle cx="392.5" cy="657.7" r="1.65" fill="#9b22c4"/>
<circle cx="395.0" cy="657.7" r="1.65" fill="#ff1050"/>
<circle cx="398.3" cy="657.7" r="1.65" fill="#9b22c4"/>
<circle cx="401.7" cy="657.7" r="1.65" fill="#ff1050"/>
<circle cx="403.2" cy="657.7" r="1.65" fill="#9b22c4"/>
<circle cx="405.2" cy="657.7" r="1.65" fill="#9b22c4"/>
<circle cx="407.1" cy="657.7" r="1.65" fill="#ff1050"/>
<circle cx="410.5" cy="657.7" r="1.65" fill="#9b22c4"/>
<circle cx="411.6" cy="657.7" r="1.65" fill="#9b22c4"/>
<circle cx="350.8" cy="657.7" r="1.65" fill="#9b22c4"/>
<circle cx="372.3" cy="657.7" r="1.65" fill="#9b22c4"/>
<circle cx="425.7" cy="657.7" r="1.65" fill="#428cff"/>
<circle cx="431.8" cy="657.7" r="1.65" fill="#d0168e"/>
<circle cx="435.1" cy="657.7" r="1.65" fill="#ff1050"/>
<circle cx="444.3" cy="657.7" r="1.65" fill="#9b22c4"/>
<circle cx="456.3" cy="657.7" r="1.65" fill="#9b22c4"/>
<circle cx="485.0" cy="657.7" r="1.65" fill="#428cff"/>
<circle cx="490.1" cy="657.7" r="1.65" fill="#ff1050"/>
<rect x="386.95" y="647.50" width="4.40" height="20.40" rx="2.20" fill="#9b22c4"/>
<circle cx="389.8" cy="649.0" r="1.5675" fill="#ff1050"/>
<circle cx="388.7" cy="656.0" r="1.5675" fill="#ff1050"/>
<circle cx="388.9" cy="658.2" r="1.5675" fill="#ff1050"/>
<circle cx="389.8" cy="658.3" r="1.5675" fill="#ff1050"/>
<circle cx="388.7" cy="660.1" r="1.5675" fill="#428cff"/>
<circle cx="388.5" cy="662.6" r="1.5675" fill="#ff1050"/>
<circle cx="388.8" cy="664.7" r="1.5675" fill="#ff1050"/>
<rect x="376.6" y="679.45" width="33.9" height="3.30" rx="1.65" fill="#428cff"/>
<circle cx="378.2" cy="681.1" r="1.65" fill="#ff1050"/>
<circle cx="384.5" cy="681.1" r="1.65" fill="#9b22c4"/>
<circle cx="393.6" cy="681.1" r="1.65" fill="#ff1050"/>
<circle cx="397.6" cy="681.1" r="1.65" fill="#9b22c4"/>
<circle cx="402.5" cy="681.1" r="1.65" fill="#9b22c4"/>
<circle cx="408.1" cy="681.1" r="1.65" fill="#9b22c4"/>
<rect x="409.4" y="679.45" width="9.9" height="3.30" rx="1.65" fill="#9b22c4"/>
<circle cx="411.1" cy="681.1" r="1.65" fill="#ff1050"/>
<circle cx="415.8" cy="681.1" r="1.65" fill="#ff1050"/>
<circle cx="372.0" cy="681.1" r="1.65" fill="#9b22c4"/>
<circle cx="376.4" cy="681.1" r="1.65" fill="#428cff"/>
<circle cx="435.5" cy="681.1" r="1.65" fill="#d0168e"/>
<rect x="386.95" y="670.90" width="4.40" height="20.40" rx="2.20" fill="#9b22c4"/>
<circle cx="389.9" cy="672.7" r="1.5675" fill="#428cff"/>
<circle cx="389.5" cy="674.8" r="1.5675" fill="#ff1050"/>
<circle cx="388.8" cy="677.3" r="1.5675" fill="#428cff"/>
<circle cx="388.5" cy="681.6" r="1.5675" fill="#ff1050"/>
<circle cx="388.8" cy="683.9" r="1.5675" fill="#428cff"/>
<rect x="368.9" y="702.45" width="30.7" height="3.30" rx="1.65" fill="#9b22c4"/>
<circle cx="370.5" cy="704.1" r="1.65" fill="#428cff"/>
<circle cx="373.1" cy="704.1" r="1.65" fill="#428cff"/>
<circle cx="374.9" cy="704.1" r="1.65" fill="#428cff"/>
<circle cx="376.7" cy="704.1" r="1.65" fill="#ff1050"/>
<circle cx="379.1" cy="704.1" r="1.65" fill="#428cff"/>
<circle cx="381.4" cy="704.1" r="1.65" fill="#428cff"/>
<circle cx="384.2" cy="704.1" r="1.65" fill="#428cff"/>
<circle cx="387.2" cy="704.1" r="1.65" fill="#ff1050"/>
<circle cx="388.9" cy="704.1" r="1.65" fill="#428cff"/>
<circle cx="390.9" cy="704.1" r="1.65" fill="#ff1050"/>
<circle cx="393.8" cy="704.1" r="1.65" fill="#ff1050"/>
<circle cx="395.0" cy="704.1" r="1.65" fill="#428cff"/>
<circle cx="397.3" cy="704.1" r="1.65" fill="#428cff"/>
<circle cx="345.8" cy="704.1" r="1.65" fill="#9b22c4"/>
<circle cx="349.7" cy="704.1" r="1.65" fill="#428cff"/>
<circle cx="353.6" cy="704.1" r="1.65" fill="#428cff"/>
<circle cx="357.4" cy="704.1" r="1.65" fill="#428cff"/>
<circle cx="361.3" cy="704.1" r="1.65" fill="#428cff"/>
<circle cx="365.0" cy="704.1" r="1.65" fill="#9b22c4"/>
<circle cx="407.7" cy="704.1" r="1.65" fill="#428cff"/>
<circle cx="416.0" cy="704.1" r="1.65" fill="#9b22c4"/>
<rect x="386.95" y="693.90" width="4.40" height="20.40" rx="2.20" fill="#428cff"/>
<circle cx="389.8" cy="699.9" r="1.5675" fill="#9b22c4"/>
<circle cx="389.7" cy="702.3" r="1.5675" fill="#ff1050"/>
<circle cx="389.7" cy="704.3" r="1.5675" fill="#ff1050"/>
<circle cx="389.4" cy="706.5" r="1.5675" fill="#9b22c4"/>
<circle cx="389.9" cy="711.3" r="1.5675" fill="#9b22c4"/>
<rect x="377.0" y="725.45" width="43.4" height="3.30" rx="1.65" fill="#9b22c4"/>
<circle cx="380.4" cy="727.1" r="1.65" fill="#ff1050"/>
<circle cx="387.6" cy="727.1" r="1.65" fill="#ff1050"/>
<circle cx="389.5" cy="727.1" r="1.65" fill="#428cff"/>
<circle cx="391.9" cy="727.1" r="1.65" fill="#428cff"/>
<circle cx="393.7" cy="727.1" r="1.65" fill="#ff1050"/>
<circle cx="396.7" cy="727.1" r="1.65" fill="#428cff"/>
<circle cx="399.2" cy="727.1" r="1.65" fill="#428cff"/>
<circle cx="407.5" cy="727.1" r="1.65" fill="#428cff"/>
<rect x="386.95" y="716.90" width="4.40" height="20.40" rx="2.20" fill="#9b22c4"/>
<circle cx="389.8" cy="723.0" r="1.5675" fill="#428cff"/>
<rect x="372.2" y="748.85" width="44.9" height="3.30" rx="1.65" fill="#428cff"/>
<circle cx="376.6" cy="750.5" r="1.65" fill="#9b22c4"/>
<circle cx="380.0" cy="750.5" r="1.65" fill="#5a45e6"/>
<circle cx="382.2" cy="750.5" r="1.65" fill="#9b22c4"/>
<circle cx="385.4" cy="750.5" r="1.65" fill="#ff1050"/>
<circle cx="388.8" cy="750.5" r="1.65" fill="#ff1050"/>
<circle cx="391.6" cy="750.5" r="1.65" fill="#9b22c4"/>
<circle cx="396.1" cy="750.5" r="1.65" fill="#9b22c4"/>
<circle cx="397.2" cy="750.5" r="1.65" fill="#d0168e"/>
<circle cx="399.7" cy="750.5" r="1.65" fill="#9b22c4"/>
<circle cx="404.5" cy="750.5" r="1.65" fill="#9b22c4"/>
<circle cx="407.0" cy="750.5" r="1.65" fill="#d0168e"/>
<circle cx="408.3" cy="750.5" r="1.65" fill="#9b22c4"/>
<circle cx="411.0" cy="750.5" r="1.65" fill="#9b22c4"/>
<circle cx="413.4" cy="750.5" r="1.65" fill="#d0168e"/>
<circle cx="356.3" cy="750.5" r="1.65" fill="#428cff"/>
<circle cx="369.0" cy="750.5" r="1.65" fill="#428cff"/>
<circle cx="371.6" cy="750.5" r="1.65" fill="#428cff"/>
<circle cx="420.9" cy="750.5" r="1.65" fill="#428cff"/>
<circle cx="442.3" cy="750.5" r="1.65" fill="#428cff"/>
<rect x="386.95" y="740.30" width="4.40" height="20.40" rx="2.20" fill="#428cff"/>
<circle cx="388.7" cy="744.1" r="1.5675" fill="#ff1050"/>
<circle cx="389.9" cy="744.1" r="1.5675" fill="#ff1050"/>
<circle cx="388.8" cy="748.6" r="1.5675" fill="#ff1050"/>
<circle cx="388.6" cy="757.5" r="1.5675" fill="#5a45e6"/>
<rect x="240.8" y="772.15" width="275.9" height="3.30" rx="1.65" fill="#9b22c4"/>
<circle cx="249.1" cy="773.8" r="1.65" fill="#ff1050"/>
<circle cx="253.6" cy="773.8" r="1.65" fill="#d0168e"/>
<circle cx="264.5" cy="773.8" r="1.65" fill="#ff1050"/>
<circle cx="265.5" cy="773.8" r="1.65" fill="#ff1050"/>
<circle cx="269.8" cy="773.8" r="1.65" fill="#428cff"/>
<circle cx="271.8" cy="773.8" r="1.65" fill="#428cff"/>
<circle cx="281.5" cy="773.8" r="1.65" fill="#428cff"/>
<circle cx="282.7" cy="773.8" r="1.65" fill="#428cff"/>
<circle cx="287.0" cy="773.8" r="1.65" fill="#ff1050"/>
<circle cx="289.7" cy="773.8" r="1.65" fill="#d0168e"/>
<circle cx="291.9" cy="773.8" r="1.65" fill="#428cff"/>
<circle cx="294.3" cy="773.8" r="1.65" fill="#d0168e"/>
<circle cx="296.0" cy="773.8" r="1.65" fill="#428cff"/>
<circle cx="300.9" cy="773.8" r="1.65" fill="#428cff"/>
<circle cx="302.2" cy="773.8" r="1.65" fill="#ff1050"/>
<circle cx="305.3" cy="773.8" r="1.65" fill="#428cff"/>
<circle cx="313.3" cy="773.8" r="1.65" fill="#d0168e"/>
<circle cx="317.4" cy="773.8" r="1.65" fill="#428cff"/>
<circle cx="319.7" cy="773.8" r="1.65" fill="#ff1050"/>
<circle cx="321.8" cy="773.8" r="1.65" fill="#ff1050"/>
<circle cx="324.6" cy="773.8" r="1.65" fill="#428cff"/>
<circle cx="337.0" cy="773.8" r="1.65" fill="#ff1050"/>
<circle cx="341.2" cy="773.8" r="1.65" fill="#d0168e"/>
<circle cx="345.5" cy="773.8" r="1.65" fill="#428cff"/>
<circle cx="349.5" cy="773.8" r="1.65" fill="#428cff"/>
<circle cx="352.0" cy="773.8" r="1.65" fill="#d0168e"/>
<circle cx="356.1" cy="773.8" r="1.65" fill="#428cff"/>
<circle cx="357.8" cy="773.8" r="1.65" fill="#ff1050"/>
<circle cx="360.3" cy="773.8" r="1.65" fill="#ff1050"/>
<circle cx="362.1" cy="773.8" r="1.65" fill="#428cff"/>
<circle cx="373.6" cy="773.8" r="1.65" fill="#428cff"/>
<circle cx="379.5" cy="773.8" r="1.65" fill="#ff1050"/>
<circle cx="381.9" cy="773.8" r="1.65" fill="#ff1050"/>
<circle cx="386.0" cy="773.8" r="1.65" fill="#d0168e"/>
<circle cx="388.4" cy="773.8" r="1.65" fill="#428cff"/>
<circle cx="391.1" cy="773.8" r="1.65" fill="#ff1050"/>
<circle cx="394.2" cy="773.8" r="1.65" fill="#d0168e"/>
<circle cx="396.4" cy="773.8" r="1.65" fill="#ff1050"/>
<circle cx="399.4" cy="773.8" r="1.65" fill="#ff1050"/>
<circle cx="401.8" cy="773.8" r="1.65" fill="#428cff"/>
<circle cx="403.2" cy="773.8" r="1.65" fill="#ff1050"/>
<circle cx="423.1" cy="773.8" r="1.65" fill="#428cff"/>
<circle cx="427.5" cy="773.8" r="1.65" fill="#ff1050"/>
<circle cx="440.2" cy="773.8" r="1.65" fill="#d0168e"/>
<circle cx="444.1" cy="773.8" r="1.65" fill="#428cff"/>
<circle cx="448.3" cy="773.8" r="1.65" fill="#428cff"/>
<circle cx="450.4" cy="773.8" r="1.65" fill="#428cff"/>
<circle cx="456.6" cy="773.8" r="1.65" fill="#ff1050"/>
<circle cx="459.3" cy="773.8" r="1.65" fill="#428cff"/>
<circle cx="461.9" cy="773.8" r="1.65" fill="#ff1050"/>
<circle cx="469.8" cy="773.8" r="1.65" fill="#d0168e"/>
<circle cx="471.5" cy="773.8" r="1.65" fill="#428cff"/>
<circle cx="491.2" cy="773.8" r="1.65" fill="#428cff"/>
<circle cx="494.1" cy="773.8" r="1.65" fill="#428cff"/>
<circle cx="497.7" cy="773.8" r="1.65" fill="#ff1050"/>
<circle cx="510.9" cy="773.8" r="1.65" fill="#d0168e"/>
<circle cx="512.9" cy="773.8" r="1.65" fill="#428cff"/>
<circle cx="514.8" cy="773.8" r="1.65" fill="#d0168e"/>
<circle cx="224.2" cy="773.8" r="1.65" fill="#428cff"/>
<circle cx="227.7" cy="773.8" r="1.65" fill="#9b22c4"/>
<circle cx="231.4" cy="773.8" r="1.65" fill="#428cff"/>
<circle cx="236.9" cy="773.8" r="1.65" fill="#428cff"/>
<circle cx="239.1" cy="773.8" r="1.65" fill="#9b22c4"/>
<circle cx="519.3" cy="773.8" r="1.65" fill="#428cff"/>
<circle cx="522.0" cy="773.8" r="1.65" fill="#9b22c4"/>
<circle cx="524.5" cy="773.8" r="1.65" fill="#9b22c4"/>
<circle cx="526.4" cy="773.8" r="1.65" fill="#9b22c4"/>
<circle cx="529.3" cy="773.8" r="1.65" fill="#428cff"/>
<circle cx="532.1" cy="773.8" r="1.65" fill="#428cff"/>
<circle cx="536.4" cy="773.8" r="1.65" fill="#9b22c4"/>
<circle cx="542.7" cy="773.8" r="1.65" fill="#428cff"/>
<circle cx="545.0" cy="773.8" r="1.65" fill="#ff1050"/>
<circle cx="553.6" cy="773.8" r="1.65" fill="#9b22c4"/>
<circle cx="560.1" cy="773.8" r="1.65" fill="#9b22c4"/>
<circle cx="563.6" cy="773.8" r="1.65" fill="#d0168e"/>
<circle cx="568.7" cy="773.8" r="1.65" fill="#428cff"/>
<circle cx="571.3" cy="773.8" r="1.65" fill="#ff1050"/>
<circle cx="575.0" cy="773.8" r="1.65" fill="#ff1050"/>
<circle cx="577.3" cy="773.8" r="1.65" fill="#9b22c4"/>
<circle cx="603.6" cy="773.8" r="1.65" fill="#9b22c4"/>
<rect x="386.05" y="763.60" width="6.20" height="20.40" rx="3.10" fill="#9b22c4"/>
<circle cx="387.9" cy="767.6" r="1.5675" fill="#d0168e"/>
<circle cx="387.6" cy="771.9" r="1.5675" fill="#ff1050"/>
<circle cx="390.4" cy="772.0" r="1.5675" fill="#d0168e"/>
<circle cx="388.0" cy="774.2" r="1.5675" fill="#ff1050"/>
<circle cx="390.7" cy="776.1" r="1.5675" fill="#ff1050"/>
<circle cx="390.6" cy="780.9" r="1.5675" fill="#ff1050"/>
<line x1="167.8" y1="797.4" x2="624.6" y2="797.4" stroke="#333" stroke-width="1"/>
<line x1="240.5" y1="797.4" x2="240.5" y2="799.4" stroke="#333" stroke-width="0.6"/>
<text class="l" x="240.5" y="808.2" font-size="8.8" text-anchor="middle" fill="#333" textLength="17.0" lengthAdjust="spacingAndGlyphs">−0.4</text>
<line x1="314.8" y1="797.4" x2="314.8" y2="799.4" stroke="#333" stroke-width="0.6"/>
<text class="l" x="314.8" y="808.2" font-size="8.8" text-anchor="middle" fill="#333" textLength="17.0" lengthAdjust="spacingAndGlyphs">−0.2</text>
<line x1="389.1" y1="797.4" x2="389.1" y2="799.4" stroke="#333" stroke-width="0.6"/>
<text class="l" x="389.1" y="808.2" font-size="8.8" text-anchor="middle" fill="#333" textLength="12.0" lengthAdjust="spacingAndGlyphs">0.0</text>
<line x1="463.4" y1="797.4" x2="463.4" y2="799.4" stroke="#333" stroke-width="0.6"/>
<text class="l" x="463.4" y="808.2" font-size="8.8" text-anchor="middle" fill="#333" textLength="12.0" lengthAdjust="spacingAndGlyphs">0.2</text>
<line x1="537.8" y1="797.4" x2="537.8" y2="799.4" stroke="#333" stroke-width="0.6"/>
<text class="l" x="537.8" y="808.2" font-size="8.8" text-anchor="middle" fill="#333" textLength="12.0" lengthAdjust="spacingAndGlyphs">0.4</text>
<line x1="612.0" y1="797.4" x2="612.0" y2="799.4" stroke="#333" stroke-width="0.6"/>
<text class="l" x="612.0" y="808.2" font-size="8.8" text-anchor="middle" fill="#333" textLength="12.0" lengthAdjust="spacingAndGlyphs">0.6</text>
<rect x="653" y="542" width="3.5" height="254" fill="url(#cbg)"/>
<text class="l" x="659.2" y="546.3" font-size="8.6" text-anchor="start" fill="#333">High</text>
<text class="l" x="658.7" y="800.3" font-size="8.6" text-anchor="start" fill="#333">Low</text>
<text class="l" x="0" y="0" font-size="9.6" text-anchor="middle" fill="#333" transform="translate(684,670.8) rotate(-90)" textLength="57" lengthAdjust="spacingAndGlyphs">Feature value</text>
<text x="5.5" y="20.3" font-size="20" text-anchor="start" fill="#000" textLength="21.6" lengthAdjust="spacingAndGlyphs" stroke="#000" stroke-width="0.55">(a)</text>
<text x="5.5" y="290.6" font-size="20" text-anchor="start" fill="#000" textLength="22.2" lengthAdjust="spacingAndGlyphs" stroke="#000" stroke-width="0.55">(b)</text>
<text x="5.5" y="533.5" font-size="20" text-anchor="start" fill="#000" textLength="20.2" lengthAdjust="spacingAndGlyphs" stroke="#000" stroke-width="0.55">(c)</text>
<text x="0" y="0" font-size="5.2" text-anchor="middle" transform="translate(683.6,623.5) rotate(-90)" textLength="25" lengthAdjust="spacingAndGlyphs"><tspan fill="#9be39b">ue</tspan><tspan fill="#d9b3f0"> va</tspan><tspan fill="#f0a6d8">l</tspan><tspan fill="#a6ecf5">ue</tspan></text>
<text class="l" x="309.7" y="820.0" font-size="10.2" text-anchor="start" fill="#333" textLength="172.3" lengthAdjust="spacingAndGlyphs">SHAP value (impact on model output)</text>
<clipPath id="clb"><rect x="0" y="530" width="685" height="5.0"/></clipPath>
<g clip-path="url(#clb)">
<text class="l" x="343.3" y="540.6" font-size="9.2" text-anchor="start" fill="#333" textLength="158.3" lengthAdjust="spacingAndGlyphs">SHAP value (impact on model output)</text>
</g>
</svg>
</body></html>
